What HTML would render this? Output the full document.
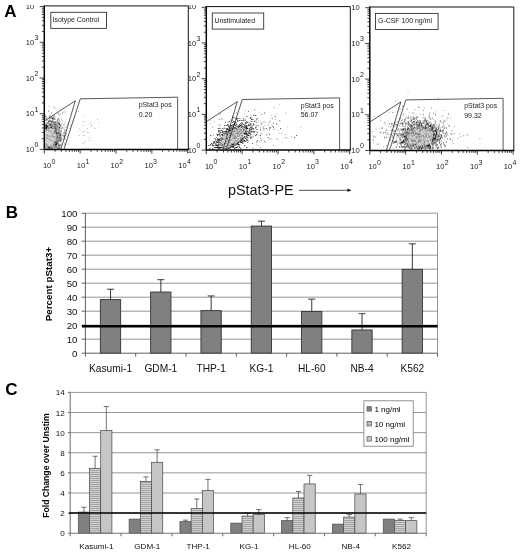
<!DOCTYPE html>
<html><head><meta charset="utf-8"><title>Figure</title>
<style>
html,body{margin:0;padding:0;background:#fff;}
body{width:520px;height:554px;overflow:hidden;font-family:"Liberation Sans",sans-serif;}
svg{display:block;will-change:transform;filter:blur(0.3px);}
</style></head><body>
<svg width="520" height="554" viewBox="0 0 520 554">
<rect width="520" height="554" fill="#fff"/>
<defs><filter id="bl" x="-5%" y="-5%" width="110%" height="110%"><feGaussianBlur stdDeviation="0.38"/></filter><clipPath id="tc"><rect x="0" y="5.0" width="520" height="549"/></clipPath></defs>
<g transform="translate(0,0)">
<rect x="44.3" y="5.9" width="144" height="143.5" fill="#fff" stroke="none"/>
<g filter="url(#bl)">
<path d="M45.3,115.4h1v1h-1zM45.3,117.4h1v1h-1zM45.3,124.4h1v1h-1zM45.3,125.4h1v1h-1zM45.3,126.4h1v1h-1zM45.3,127.4h1v1h-1zM45.3,128.4h1v1h-1zM46.3,119.4h1v1h-1zM46.3,124.4h1v1h-1zM46.3,125.4h1v1h-1zM46.3,126.4h1v1h-1zM46.3,127.4h1v1h-1zM46.3,128.4h1v1h-1zM47.3,122.4h1v1h-1zM47.3,125.4h1v1h-1zM47.3,126.4h1v1h-1zM47.3,147.4h1v1h-1zM48.3,120.4h1v1h-1zM48.3,121.4h1v1h-1zM48.3,127.4h1v1h-1zM48.3,128.4h1v1h-1zM48.3,146.4h1v1h-1zM48.3,147.4h1v1h-1zM49.3,115.4h1v1h-1zM49.3,117.4h1v1h-1zM49.3,120.4h1v1h-1zM49.3,124.4h1v1h-1zM49.3,146.4h1v1h-1zM49.3,147.4h1v1h-1zM50.3,120.4h1v1h-1zM50.3,123.4h1v1h-1zM50.3,124.4h1v1h-1zM50.3,125.4h1v1h-1zM50.3,126.4h1v1h-1zM50.3,127.4h1v1h-1zM50.3,145.4h1v1h-1zM50.3,147.4h1v1h-1zM51.3,117.4h1v1h-1zM51.3,122.4h1v1h-1zM51.3,124.4h1v1h-1zM51.3,126.4h1v1h-1zM51.3,127.4h1v1h-1zM51.3,147.4h1v1h-1zM52.3,117.4h1v1h-1zM52.3,118.4h1v1h-1zM52.3,120.4h1v1h-1zM52.3,121.4h1v1h-1zM52.3,125.4h1v1h-1zM52.3,126.4h1v1h-1zM52.3,128.4h1v1h-1zM52.3,147.4h1v1h-1zM53.3,116.4h1v1h-1zM53.3,118.4h1v1h-1zM53.3,121.4h1v1h-1zM53.3,123.4h1v1h-1zM53.3,127.4h1v1h-1zM53.3,131.4h1v1h-1zM53.3,141.4h1v1h-1zM53.3,143.4h1v1h-1zM53.3,144.4h1v1h-1zM54.3,118.4h1v1h-1zM54.3,123.4h1v1h-1zM54.3,124.4h1v1h-1zM54.3,126.4h1v1h-1zM54.3,127.4h1v1h-1zM54.3,129.4h1v1h-1zM54.3,131.4h1v1h-1zM54.3,141.4h1v1h-1zM54.3,144.4h1v1h-1zM54.3,146.4h1v1h-1zM55.3,121.4h1v1h-1zM55.3,122.4h1v1h-1zM55.3,124.4h1v1h-1zM55.3,126.4h1v1h-1zM55.3,127.4h1v1h-1zM55.3,128.4h1v1h-1zM55.3,130.4h1v1h-1zM55.3,131.4h1v1h-1zM55.3,141.4h1v1h-1zM55.3,142.4h1v1h-1zM55.3,143.4h1v1h-1zM55.3,144.4h1v1h-1zM55.3,145.4h1v1h-1zM56.3,124.4h1v1h-1zM56.3,128.4h1v1h-1zM56.3,129.4h1v1h-1zM56.3,131.4h1v1h-1zM56.3,132.4h1v1h-1zM56.3,133.4h1v1h-1zM56.3,134.4h1v1h-1zM56.3,136.4h1v1h-1zM56.3,138.4h1v1h-1zM56.3,140.4h1v1h-1zM56.3,142.4h1v1h-1zM56.3,143.4h1v1h-1zM56.3,144.4h1v1h-1zM56.3,146.4h1v1h-1zM57.3,122.4h1v1h-1zM57.3,125.4h1v1h-1zM57.3,132.4h1v1h-1zM57.3,140.4h1v1h-1zM57.3,147.4h1v1h-1zM58.3,122.4h1v1h-1zM58.3,123.4h1v1h-1zM58.3,127.4h1v1h-1zM58.3,129.4h1v1h-1zM58.3,131.4h1v1h-1zM58.3,133.4h1v1h-1zM58.3,134.4h1v1h-1zM58.3,137.4h1v1h-1zM58.3,140.4h1v1h-1zM58.3,144.4h1v1h-1zM58.3,145.4h1v1h-1zM58.3,147.4h1v1h-1zM59.3,123.4h1v1h-1zM59.3,124.4h1v1h-1zM59.3,126.4h1v1h-1zM59.3,127.4h1v1h-1zM59.3,130.4h1v1h-1zM59.3,132.4h1v1h-1zM59.3,134.4h1v1h-1zM59.3,136.4h1v1h-1zM59.3,137.4h1v1h-1zM59.3,139.4h1v1h-1zM59.3,145.4h1v1h-1zM59.3,147.4h1v1h-1zM60.3,125.4h1v1h-1zM60.3,134.4h1v1h-1zM60.3,135.4h1v1h-1zM60.3,137.4h1v1h-1zM60.3,139.4h1v1h-1zM60.3,140.4h1v1h-1zM61.3,138.4h1v1h-1zM62.3,127.4h1v1h-1zM63.3,135.4h1v1h-1zM64.3,135.4h1v1h-1zM64.3,138.4h1v1h-1z" fill="#1a1a1a"/>
<path d="M45.3,123.4h1v1h-1zM45.3,147.4h1v1h-1zM46.3,122.4h1v1h-1zM46.3,143.4h1v1h-1zM47.3,145.4h1v1h-1zM47.3,146.4h1v1h-1zM48.3,123.4h1v1h-1zM49.3,123.4h1v1h-1zM49.3,125.4h1v1h-1zM49.3,127.4h1v1h-1zM50.3,117.4h1v1h-1zM50.3,121.4h1v1h-1zM51.3,120.4h1v1h-1zM51.3,121.4h1v1h-1zM51.3,145.4h1v1h-1zM51.3,146.4h1v1h-1zM52.3,127.4h1v1h-1zM53.3,122.4h1v1h-1zM53.3,146.4h1v1h-1zM54.3,121.4h1v1h-1zM54.3,125.4h1v1h-1zM54.3,130.4h1v1h-1zM54.3,142.4h1v1h-1zM54.3,147.4h1v1h-1zM55.3,125.4h1v1h-1zM55.3,129.4h1v1h-1zM55.3,132.4h1v1h-1zM55.3,133.4h1v1h-1zM56.3,126.4h1v1h-1zM56.3,135.4h1v1h-1zM56.3,137.4h1v1h-1zM56.3,139.4h1v1h-1zM56.3,141.4h1v1h-1zM56.3,147.4h1v1h-1zM57.3,119.4h1v1h-1zM57.3,123.4h1v1h-1zM57.3,126.4h1v1h-1zM57.3,129.4h1v1h-1zM57.3,133.4h1v1h-1zM57.3,135.4h1v1h-1zM57.3,136.4h1v1h-1zM57.3,137.4h1v1h-1zM57.3,141.4h1v1h-1zM57.3,142.4h1v1h-1zM57.3,143.4h1v1h-1zM58.3,118.4h1v1h-1zM58.3,121.4h1v1h-1zM58.3,128.4h1v1h-1zM58.3,132.4h1v1h-1zM58.3,138.4h1v1h-1zM58.3,139.4h1v1h-1zM59.3,135.4h1v1h-1zM59.3,140.4h1v1h-1zM59.3,144.4h1v1h-1zM60.3,132.4h1v1h-1zM60.3,133.4h1v1h-1zM60.3,136.4h1v1h-1zM60.3,144.4h1v1h-1zM62.3,134.4h1v1h-1zM63.3,132.4h1v1h-1zM64.3,143.4h1v1h-1z" fill="#555"/>
<path d="M45.3,129.4h1v1h-1zM45.3,131.4h1v1h-1zM45.3,133.4h1v1h-1zM45.3,137.4h1v1h-1zM45.3,138.4h1v1h-1zM45.3,142.4h1v1h-1zM46.3,131.4h1v1h-1zM46.3,133.4h1v1h-1zM46.3,139.4h1v1h-1zM47.3,129.4h1v1h-1zM47.3,131.4h1v1h-1zM47.3,136.4h1v1h-1zM47.3,137.4h1v1h-1zM47.3,138.4h1v1h-1zM47.3,139.4h1v1h-1zM47.3,142.4h1v1h-1zM48.3,131.4h1v1h-1zM48.3,139.4h1v1h-1zM48.3,142.4h1v1h-1zM49.3,128.4h1v1h-1zM49.3,129.4h1v1h-1zM49.3,130.4h1v1h-1zM49.3,132.4h1v1h-1zM49.3,133.4h1v1h-1zM49.3,135.4h1v1h-1zM49.3,137.4h1v1h-1zM49.3,139.4h1v1h-1zM49.3,140.4h1v1h-1zM49.3,143.4h1v1h-1zM50.3,132.4h1v1h-1zM50.3,135.4h1v1h-1zM50.3,137.4h1v1h-1zM50.3,141.4h1v1h-1zM50.3,146.4h1v1h-1zM51.3,128.4h1v1h-1zM51.3,131.4h1v1h-1zM51.3,132.4h1v1h-1zM51.3,134.4h1v1h-1zM51.3,136.4h1v1h-1zM51.3,138.4h1v1h-1zM51.3,142.4h1v1h-1zM52.3,130.4h1v1h-1zM52.3,135.4h1v1h-1zM52.3,142.4h1v1h-1zM53.3,130.4h1v1h-1zM53.3,134.4h1v1h-1zM53.3,137.4h1v1h-1zM53.3,138.4h1v1h-1zM54.3,132.4h1v1h-1zM54.3,133.4h1v1h-1zM54.3,137.4h1v1h-1zM54.3,138.4h1v1h-1zM54.3,139.4h1v1h-1zM55.3,134.4h1v1h-1zM55.3,135.4h1v1h-1z" fill="#bcbcbc"/>
<path d="M45.3,130.4h1v1h-1zM45.3,141.4h1v1h-1zM45.3,143.4h1v1h-1zM45.3,144.4h1v1h-1zM46.3,130.4h1v1h-1zM46.3,134.4h1v1h-1zM46.3,135.4h1v1h-1zM46.3,136.4h1v1h-1zM46.3,141.4h1v1h-1zM46.3,145.4h1v1h-1zM47.3,133.4h1v1h-1zM47.3,134.4h1v1h-1zM47.3,135.4h1v1h-1zM47.3,140.4h1v1h-1zM47.3,143.4h1v1h-1zM48.3,135.4h1v1h-1zM48.3,136.4h1v1h-1zM48.3,144.4h1v1h-1zM48.3,145.4h1v1h-1zM49.3,134.4h1v1h-1zM49.3,136.4h1v1h-1zM50.3,129.4h1v1h-1zM50.3,130.4h1v1h-1zM50.3,131.4h1v1h-1zM50.3,136.4h1v1h-1zM50.3,140.4h1v1h-1zM50.3,143.4h1v1h-1zM50.3,144.4h1v1h-1zM51.3,130.4h1v1h-1zM51.3,144.4h1v1h-1zM52.3,132.4h1v1h-1zM52.3,133.4h1v1h-1zM52.3,134.4h1v1h-1zM52.3,136.4h1v1h-1zM52.3,137.4h1v1h-1zM52.3,140.4h1v1h-1zM52.3,143.4h1v1h-1zM53.3,132.4h1v1h-1zM53.3,133.4h1v1h-1zM53.3,136.4h1v1h-1zM53.3,140.4h1v1h-1zM53.3,142.4h1v1h-1zM54.3,140.4h1v1h-1z" fill="#a0a0a0"/>
<path d="M45.3,132.4h1v1h-1zM45.3,135.4h1v1h-1zM45.3,136.4h1v1h-1zM46.3,138.4h1v1h-1zM46.3,140.4h1v1h-1zM46.3,142.4h1v1h-1zM47.3,128.4h1v1h-1zM47.3,130.4h1v1h-1zM47.3,132.4h1v1h-1zM47.3,141.4h1v1h-1zM47.3,144.4h1v1h-1zM48.3,129.4h1v1h-1zM48.3,133.4h1v1h-1zM48.3,134.4h1v1h-1zM48.3,137.4h1v1h-1zM48.3,140.4h1v1h-1zM48.3,141.4h1v1h-1zM48.3,143.4h1v1h-1zM49.3,131.4h1v1h-1zM49.3,138.4h1v1h-1zM49.3,141.4h1v1h-1zM49.3,142.4h1v1h-1zM49.3,144.4h1v1h-1zM49.3,145.4h1v1h-1zM50.3,128.4h1v1h-1zM50.3,133.4h1v1h-1zM50.3,134.4h1v1h-1zM50.3,138.4h1v1h-1zM50.3,142.4h1v1h-1zM51.3,129.4h1v1h-1zM51.3,133.4h1v1h-1zM51.3,137.4h1v1h-1zM51.3,139.4h1v1h-1zM51.3,141.4h1v1h-1zM51.3,143.4h1v1h-1zM52.3,129.4h1v1h-1zM52.3,131.4h1v1h-1zM52.3,138.4h1v1h-1zM52.3,139.4h1v1h-1zM52.3,141.4h1v1h-1zM52.3,144.4h1v1h-1zM53.3,129.4h1v1h-1zM53.3,139.4h1v1h-1zM54.3,134.4h1v1h-1zM54.3,135.4h1v1h-1z" fill="#d2d2d2"/>
<path d="M45.3,134.4h1v1h-1zM45.3,139.4h1v1h-1zM48.3,138.4h1v1h-1zM51.3,135.4h1v1h-1zM51.3,140.4h1v1h-1z" fill="#777"/>
<path d="M45.3,145.4h1v1h-1zM45.3,146.4h1v1h-1zM46.3,147.4h1v1h-1zM47.3,127.4h1v1h-1zM49.3,126.4h1v1h-1zM52.3,145.4h1v1h-1zM52.3,146.4h1v1h-1zM53.3,128.4h1v1h-1zM53.3,145.4h1v1h-1zM54.3,128.4h1v1h-1zM54.3,143.4h1v1h-1zM55.3,136.4h1v1h-1zM55.3,138.4h1v1h-1zM55.3,139.4h1v1h-1zM55.3,140.4h1v1h-1z" fill="#909090"/>
<path d="M46.3,123.4h1v1h-1zM48.3,124.4h1v1h-1zM48.3,125.4h1v1h-1zM51.3,123.4h1v1h-1zM51.3,125.4h1v1h-1zM52.3,124.4h1v1h-1zM53.3,125.4h1v1h-1zM53.3,126.4h1v1h-1zM55.3,146.4h1v1h-1zM55.3,147.4h1v1h-1zM56.3,120.4h1v1h-1zM56.3,122.4h1v1h-1zM56.3,130.4h1v1h-1zM57.3,118.4h1v1h-1zM57.3,127.4h1v1h-1zM57.3,128.4h1v1h-1zM57.3,138.4h1v1h-1zM57.3,139.4h1v1h-1zM58.3,136.4h1v1h-1zM58.3,142.4h1v1h-1zM58.3,143.4h1v1h-1zM59.3,128.4h1v1h-1zM69.6,127.9h0.9v0.9h-0.9zM65.7,126.5h0.9v0.9h-0.9zM53.5,118.1h0.9v0.9h-0.9zM57.8,118.5h0.9v0.9h-0.9zM64.6,111.5h0.9v0.9h-0.9zM60.7,124.4h0.9v0.9h-0.9zM70.5,124.8h0.9v0.9h-0.9zM52.5,125.9h0.9v0.9h-0.9zM58.0,125.9h0.9v0.9h-0.9zM52.0,135.2h0.9v0.9h-0.9zM61.1,119.4h0.9v0.9h-0.9zM63.6,124.0h0.9v0.9h-0.9zM64.0,132.1h0.9v0.9h-0.9zM56.8,137.9h0.9v0.9h-0.9zM54.1,115.2h0.9v0.9h-0.9zM56.1,128.5h0.9v0.9h-0.9zM53.0,118.5h0.9v0.9h-0.9zM51.3,131.0h0.9v0.9h-0.9zM48.3,122.3h0.9v0.9h-0.9zM54.5,126.7h0.9v0.9h-0.9zM59.1,134.9h0.9v0.9h-0.9zM61.3,130.8h0.9v0.9h-0.9zM52.5,136.0h0.9v0.9h-0.9zM56.3,136.8h0.9v0.9h-0.9zM58.9,126.5h0.9v0.9h-0.9zM59.5,131.4h0.9v0.9h-0.9zM55.7,134.1h0.9v0.9h-0.9zM64.3,135.6h0.9v0.9h-0.9zM61.2,128.4h0.9v0.9h-0.9zM82.7,121.2h0.9v0.9h-0.9zM87.0,128.4h0.9v0.9h-0.9zM78.6,135.2h0.9v0.9h-0.9zM94.4,127.8h0.9v0.9h-0.9zM87.5,132.0h0.9v0.9h-0.9zM91.2,124.6h0.9v0.9h-0.9z" fill="#888"/>
<path d="M46.3,129.4h1v1h-1zM46.3,137.4h1v1h-1zM46.3,144.4h1v1h-1zM48.3,130.4h1v1h-1zM50.3,139.4h1v1h-1zM54.3,136.4h1v1h-1z" fill="#444"/>
<path d="M58.0,143.9h0.9v0.9h-0.9zM58.2,112.8h0.9v0.9h-0.9zM61.0,129.5h0.9v0.9h-0.9zM55.8,128.5h0.9v0.9h-0.9zM60.9,143.5h0.9v0.9h-0.9zM72.6,121.7h0.9v0.9h-0.9zM59.4,136.9h0.9v0.9h-0.9zM64.4,129.6h0.9v0.9h-0.9zM62.0,112.8h0.9v0.9h-0.9zM59.4,128.2h0.9v0.9h-0.9zM53.0,120.9h0.9v0.9h-0.9zM58.9,135.8h0.9v0.9h-0.9zM59.8,109.7h0.9v0.9h-0.9zM58.1,135.4h0.9v0.9h-0.9zM58.9,129.9h0.9v0.9h-0.9zM55.1,131.7h0.9v0.9h-0.9zM53.1,118.8h0.9v0.9h-0.9zM62.6,111.8h0.9v0.9h-0.9zM61.6,107.5h0.9v0.9h-0.9zM60.1,136.4h0.9v0.9h-0.9zM60.4,130.6h0.9v0.9h-0.9zM48.0,111.1h0.9v0.9h-0.9zM49.9,125.6h0.9v0.9h-0.9zM64.9,121.8h0.9v0.9h-0.9zM54.7,123.1h0.9v0.9h-0.9zM66.0,140.6h0.9v0.9h-0.9zM59.5,114.1h0.9v0.9h-0.9zM64.6,130.3h0.9v0.9h-0.9zM60.2,125.8h0.9v0.9h-0.9zM49.4,116.0h0.9v0.9h-0.9zM60.0,130.8h0.9v0.9h-0.9zM51.6,113.1h0.9v0.9h-0.9zM58.0,113.9h0.9v0.9h-0.9zM68.2,122.8h0.9v0.9h-0.9zM52.7,136.1h0.9v0.9h-0.9zM49.5,119.7h0.9v0.9h-0.9zM63.5,124.3h0.9v0.9h-0.9zM64.2,130.5h0.9v0.9h-0.9zM52.7,115.7h0.9v0.9h-0.9zM47.9,122.1h0.9v0.9h-0.9zM83.6,135.0h0.9v0.9h-0.9zM83.1,131.7h0.9v0.9h-0.9zM82.5,125.2h0.9v0.9h-0.9zM97.3,118.8h0.9v0.9h-0.9z" fill="#999"/>
<path d="M60.5,141.3h0.9v0.9h-0.9zM60.5,117.1h0.9v0.9h-0.9zM57.1,121.0h0.9v0.9h-0.9zM48.7,105.8h0.9v0.9h-0.9zM47.3,117.2h0.9v0.9h-0.9zM51.7,123.9h0.9v0.9h-0.9zM50.3,125.8h0.9v0.9h-0.9zM59.4,128.8h0.9v0.9h-0.9zM51.4,121.0h0.9v0.9h-0.9zM63.9,130.3h0.9v0.9h-0.9zM54.5,107.5h0.9v0.9h-0.9zM64.6,126.9h0.9v0.9h-0.9zM58.2,134.3h0.9v0.9h-0.9zM68.0,143.5h0.9v0.9h-0.9zM48.8,119.2h0.9v0.9h-0.9zM58.9,114.5h0.9v0.9h-0.9zM58.4,119.8h0.9v0.9h-0.9zM66.9,124.4h0.9v0.9h-0.9zM59.1,120.2h0.9v0.9h-0.9zM55.0,116.2h0.9v0.9h-0.9zM61.7,120.6h0.9v0.9h-0.9zM64.9,129.9h0.9v0.9h-0.9zM63.9,129.3h0.9v0.9h-0.9zM65.9,133.1h0.9v0.9h-0.9zM52.7,135.7h0.9v0.9h-0.9zM55.3,127.2h0.9v0.9h-0.9zM55.4,124.6h0.9v0.9h-0.9zM50.9,133.6h0.9v0.9h-0.9zM62.0,120.8h0.9v0.9h-0.9zM59.8,147.3h0.9v0.9h-0.9zM64.0,133.3h0.9v0.9h-0.9zM63.5,137.4h0.9v0.9h-0.9zM88.6,136.9h0.9v0.9h-0.9zM87.8,124.2h0.9v0.9h-0.9zM84.8,130.6h0.9v0.9h-0.9zM83.1,143.0h0.9v0.9h-0.9zM85.4,120.7h0.9v0.9h-0.9zM79.5,129.7h0.9v0.9h-0.9zM78.1,110.9h0.9v0.9h-0.9z" fill="#aaa"/>
<path d="M54.1,106.7h0.9v0.9h-0.9zM58.8,141.8h0.9v0.9h-0.9zM52.8,126.2h0.9v0.9h-0.9zM48.8,133.0h0.9v0.9h-0.9zM59.2,121.0h0.9v0.9h-0.9zM56.5,123.3h0.9v0.9h-0.9zM57.8,127.9h0.9v0.9h-0.9zM56.8,129.0h0.9v0.9h-0.9zM59.6,121.7h0.9v0.9h-0.9zM49.4,125.9h0.9v0.9h-0.9zM53.1,134.2h0.9v0.9h-0.9zM52.4,127.4h0.9v0.9h-0.9zM58.3,139.6h0.9v0.9h-0.9zM58.5,122.5h0.9v0.9h-0.9zM52.1,126.7h0.9v0.9h-0.9zM59.3,130.6h0.9v0.9h-0.9zM55.6,122.4h0.9v0.9h-0.9zM51.0,112.1h0.9v0.9h-0.9zM49.1,118.7h0.9v0.9h-0.9zM60.9,127.4h0.9v0.9h-0.9zM53.3,127.1h0.9v0.9h-0.9zM69.8,137.3h0.9v0.9h-0.9zM48.1,110.0h0.9v0.9h-0.9zM67.2,123.5h0.9v0.9h-0.9zM61.4,123.3h0.9v0.9h-0.9zM55.8,122.5h0.9v0.9h-0.9zM53.3,106.8h0.9v0.9h-0.9zM61.2,135.8h0.9v0.9h-0.9zM90.1,122.1h0.9v0.9h-0.9zM88.6,140.1h0.9v0.9h-0.9zM82.0,131.1h0.9v0.9h-0.9zM79.0,127.9h0.9v0.9h-0.9zM89.4,138.9h0.9v0.9h-0.9zM84.9,141.3h0.9v0.9h-0.9zM98.6,122.3h0.9v0.9h-0.9zM82.6,115.9h0.9v0.9h-0.9zM90.5,126.0h0.9v0.9h-0.9z" fill="#bbb"/>
</g>
<polyline points="44.3,121 75.3,100.8 60.9,149.4" fill="none" stroke="#222" stroke-width="0.75"/>
<polyline points="63.9,149.4 80.3,98.8 177.6,97.2 177.6,149.4" fill="none" stroke="#222" stroke-width="0.75"/>
<path d="M44.3,5.9H188.3V149.4" fill="none" stroke="#111" stroke-width="1.0"/>
<path d="M44.3,5.4V149.4H188.8" fill="none" stroke="#000" stroke-width="1.45"/>
<path d="M39.7,149.4H44.3M44.3,149.4V153.6M41.9,138.65H44.3M55.09,149.4V151.8M41.9,132.37H44.3M61.4,149.4V151.8M41.9,127.91H44.3M65.88,149.4V151.8M41.9,124.45H44.3M69.36,149.4V151.8M41.9,121.62H44.3M72.2,149.4V151.8M41.9,119.23H44.3M74.6,149.4V151.8M41.9,117.16H44.3M76.68,149.4V151.8M41.9,115.33H44.3M78.51,149.4V151.8M39.7,113.7H44.3M80.15,149.4V153.6M41.9,102.95H44.3M90.94,149.4V151.8M41.9,96.67H44.3M97.25,149.4V151.8M41.9,92.21H44.3M101.73,149.4V151.8M41.9,88.75H44.3M105.21,149.4V151.8M41.9,85.92H44.3M108.05,149.4V151.8M41.9,83.53H44.3M110.45,149.4V151.8M41.9,81.46H44.3M112.53,149.4V151.8M41.9,79.63H44.3M114.36,149.4V151.8M39.7,78H44.3M116,149.4V153.6M41.9,67.25H44.3M126.79,149.4V151.8M41.9,60.97H44.3M133.1,149.4V151.8M41.9,56.51H44.3M137.58,149.4V151.8M41.9,53.05H44.3M141.06,149.4V151.8M41.9,50.22H44.3M143.9,149.4V151.8M41.9,47.83H44.3M146.3,149.4V151.8M41.9,45.76H44.3M148.38,149.4V151.8M41.9,43.93H44.3M150.21,149.4V151.8M39.7,42.3H44.3M151.85,149.4V153.6M41.9,31.55H44.3M162.64,149.4V151.8M41.9,25.27H44.3M168.95,149.4V151.8M41.9,20.81H44.3M173.43,149.4V151.8M41.9,17.35H44.3M176.91,149.4V151.8M41.9,14.52H44.3M179.75,149.4V151.8M41.9,12.13H44.3M182.15,149.4V151.8M41.9,10.06H44.3M184.23,149.4V151.8M41.9,8.23H44.3M186.06,149.4V151.8M39.7,6.6H44.3M187.7,149.4V153.6" stroke="#111" stroke-width="0.8" fill="none"/>
<text x="25.8" y="152" font-size="7.6" font-family="Liberation Sans, sans-serif" fill="#222">10<tspan dy="-4.6" dx="0.2" font-size="7">0</tspan></text>
<text x="42.9" y="168.4" font-size="7.6" font-family="Liberation Sans, sans-serif" fill="#222">10<tspan dy="-4.8" dx="0.2" font-size="7">0</tspan></text>
<text x="25.8" y="116.3" font-size="7.6" font-family="Liberation Sans, sans-serif" fill="#222">10<tspan dy="-4.6" dx="0.2" font-size="7">1</tspan></text>
<text x="76.75" y="168.4" font-size="7.6" font-family="Liberation Sans, sans-serif" fill="#222">10<tspan dy="-4.8" dx="0.2" font-size="7">1</tspan></text>
<text x="25.8" y="80.6" font-size="7.6" font-family="Liberation Sans, sans-serif" fill="#222">10<tspan dy="-4.6" dx="0.2" font-size="7">2</tspan></text>
<text x="110.6" y="168.4" font-size="7.6" font-family="Liberation Sans, sans-serif" fill="#222">10<tspan dy="-4.8" dx="0.2" font-size="7">2</tspan></text>
<text x="25.8" y="44.9" font-size="7.6" font-family="Liberation Sans, sans-serif" fill="#222">10<tspan dy="-4.6" dx="0.2" font-size="7">3</tspan></text>
<text x="144.45" y="168.4" font-size="7.6" font-family="Liberation Sans, sans-serif" fill="#222">10<tspan dy="-4.8" dx="0.2" font-size="7">3</tspan></text>
<text x="178.3" y="168.4" font-size="7.6" font-family="Liberation Sans, sans-serif" fill="#222">10<tspan dy="-4.8" dx="0.2" font-size="7">4</tspan></text>
<rect x="50.8" y="12.3" width="55.7" height="16.1" fill="#fff" stroke="#333" stroke-width="0.9"/>
<text x="52.5" y="21.9" font-size="6.95" font-family="Liberation Sans, sans-serif" fill="#222">Isotype Control</text>
<text x="138.7" y="107" font-size="6.9" font-family="Liberation Sans, sans-serif" fill="#222">pStat3 pos</text>
<text x="138.7" y="116.6" font-size="7.0" font-family="Liberation Sans, sans-serif" fill="#222">0.20</text>
</g>
<g clip-path="url(#tc)"><text x="25.8" y="8.7" font-size="7.6" font-family="Liberation Sans, sans-serif" fill="#222">10</text></g>
<g transform="translate(0,0.7)">
<rect x="206.3" y="5.9" width="144" height="143.5" fill="#fff" stroke="none"/>
<g filter="url(#bl)">
<path d="M208.3,144.4h1v1h-1zM209.3,147.4h1v1h-1zM210.3,134.4h1v1h-1zM210.3,143.4h1v1h-1zM211.3,142.4h1v1h-1zM212.3,144.4h1v1h-1zM212.3,147.4h1v1h-1zM213.3,142.4h1v1h-1zM213.3,144.4h1v1h-1zM214.3,140.4h1v1h-1zM214.3,146.4h1v1h-1zM215.3,138.4h1v1h-1zM215.3,144.4h1v1h-1zM215.3,146.4h1v1h-1zM216.3,140.4h1v1h-1zM216.3,141.4h1v1h-1zM216.3,144.4h1v1h-1zM216.3,146.4h1v1h-1zM217.3,134.4h1v1h-1zM217.3,138.4h1v1h-1zM217.3,139.4h1v1h-1zM217.3,141.4h1v1h-1zM217.3,144.4h1v1h-1zM217.3,146.4h1v1h-1zM218.3,127.4h1v1h-1zM218.3,129.4h1v1h-1zM218.3,130.4h1v1h-1zM218.3,138.4h1v1h-1zM218.3,140.4h1v1h-1zM218.3,143.4h1v1h-1zM218.3,146.4h1v1h-1zM219.3,132.4h1v1h-1zM219.3,138.4h1v1h-1zM219.3,139.4h1v1h-1zM219.3,141.4h1v1h-1zM219.3,146.4h1v1h-1zM219.3,147.4h1v1h-1zM220.3,131.4h1v1h-1zM220.3,142.4h1v1h-1zM220.3,146.4h1v1h-1zM221.3,129.4h1v1h-1zM221.3,133.4h1v1h-1zM221.3,146.4h1v1h-1zM222.3,127.4h1v1h-1zM222.3,130.4h1v1h-1zM222.3,131.4h1v1h-1zM222.3,133.4h1v1h-1zM222.3,134.4h1v1h-1zM222.3,138.4h1v1h-1zM223.3,132.4h1v1h-1zM224.3,124.4h1v1h-1zM224.3,130.4h1v1h-1zM224.3,133.4h1v1h-1zM225.3,130.4h1v1h-1zM225.3,132.4h1v1h-1zM225.3,145.4h1v1h-1zM226.3,128.4h1v1h-1zM226.3,130.4h1v1h-1zM226.3,131.4h1v1h-1zM226.3,147.4h1v1h-1zM227.3,123.4h1v1h-1zM227.3,128.4h1v1h-1zM228.3,125.4h1v1h-1zM228.3,129.4h1v1h-1zM228.3,147.4h1v1h-1zM229.3,126.4h1v1h-1zM229.3,127.4h1v1h-1zM229.3,128.4h1v1h-1zM229.3,129.4h1v1h-1zM229.3,131.4h1v1h-1zM229.3,146.4h1v1h-1zM230.3,124.4h1v1h-1zM230.3,125.4h1v1h-1zM230.3,128.4h1v1h-1zM230.3,129.4h1v1h-1zM230.3,145.4h1v1h-1zM230.3,146.4h1v1h-1zM231.3,124.4h1v1h-1zM231.3,126.4h1v1h-1zM231.3,127.4h1v1h-1zM231.3,143.4h1v1h-1zM231.3,144.4h1v1h-1zM231.3,145.4h1v1h-1zM232.3,121.4h1v1h-1zM232.3,127.4h1v1h-1zM232.3,128.4h1v1h-1zM232.3,143.4h1v1h-1zM232.3,145.4h1v1h-1zM233.3,116.4h1v1h-1zM233.3,120.4h1v1h-1zM233.3,123.4h1v1h-1zM233.3,124.4h1v1h-1zM233.3,142.4h1v1h-1zM233.3,143.4h1v1h-1zM233.3,145.4h1v1h-1zM233.3,146.4h1v1h-1zM234.3,122.4h1v1h-1zM234.3,123.4h1v1h-1zM234.3,126.4h1v1h-1zM234.3,144.4h1v1h-1zM234.3,147.4h1v1h-1zM235.3,121.4h1v1h-1zM235.3,124.4h1v1h-1zM235.3,143.4h1v1h-1zM235.3,146.4h1v1h-1zM236.3,118.4h1v1h-1zM236.3,123.4h1v1h-1zM236.3,142.4h1v1h-1zM236.3,146.4h1v1h-1zM237.3,119.4h1v1h-1zM237.3,120.4h1v1h-1zM237.3,141.4h1v1h-1zM237.3,142.4h1v1h-1zM237.3,143.4h1v1h-1zM237.3,145.4h1v1h-1zM238.3,125.4h1v1h-1zM238.3,126.4h1v1h-1zM238.3,141.4h1v1h-1zM238.3,143.4h1v1h-1zM239.3,119.4h1v1h-1zM239.3,123.4h1v1h-1zM239.3,124.4h1v1h-1zM239.3,125.4h1v1h-1zM239.3,140.4h1v1h-1zM239.3,146.4h1v1h-1zM240.3,124.4h1v1h-1zM240.3,139.4h1v1h-1zM240.3,140.4h1v1h-1zM240.3,141.4h1v1h-1zM241.3,119.4h1v1h-1zM241.3,123.4h1v1h-1zM241.3,124.4h1v1h-1zM241.3,125.4h1v1h-1zM241.3,126.4h1v1h-1zM241.3,137.4h1v1h-1zM241.3,138.4h1v1h-1zM241.3,139.4h1v1h-1zM241.3,141.4h1v1h-1zM242.3,122.4h1v1h-1zM242.3,134.4h1v1h-1zM242.3,137.4h1v1h-1zM242.3,138.4h1v1h-1zM242.3,140.4h1v1h-1zM243.3,119.4h1v1h-1zM243.3,123.4h1v1h-1zM243.3,128.4h1v1h-1zM243.3,129.4h1v1h-1zM243.3,132.4h1v1h-1zM243.3,139.4h1v1h-1zM244.3,124.4h1v1h-1zM244.3,126.4h1v1h-1zM244.3,132.4h1v1h-1zM244.3,133.4h1v1h-1zM244.3,135.4h1v1h-1zM244.3,136.4h1v1h-1zM244.3,139.4h1v1h-1zM244.3,140.4h1v1h-1zM245.3,121.4h1v1h-1zM245.3,122.4h1v1h-1zM245.3,126.4h1v1h-1zM245.3,127.4h1v1h-1zM245.3,129.4h1v1h-1zM245.3,130.4h1v1h-1zM245.3,131.4h1v1h-1zM245.3,132.4h1v1h-1zM245.3,137.4h1v1h-1zM246.3,115.4h1v1h-1zM246.3,124.4h1v1h-1zM246.3,125.4h1v1h-1zM246.3,126.4h1v1h-1zM246.3,127.4h1v1h-1zM246.3,130.4h1v1h-1zM246.3,132.4h1v1h-1zM246.3,133.4h1v1h-1zM246.3,135.4h1v1h-1zM246.3,138.4h1v1h-1zM246.3,146.4h1v1h-1zM247.3,121.4h1v1h-1zM247.3,127.4h1v1h-1zM247.3,133.4h1v1h-1zM247.3,134.4h1v1h-1zM247.3,136.4h1v1h-1zM248.3,123.4h1v1h-1zM248.3,124.4h1v1h-1zM248.3,132.4h1v1h-1zM248.3,134.4h1v1h-1zM249.3,127.4h1v1h-1zM249.3,129.4h1v1h-1zM249.3,130.4h1v1h-1zM249.3,131.4h1v1h-1zM249.3,132.4h1v1h-1zM250.3,116.4h1v1h-1zM250.3,117.4h1v1h-1zM250.3,123.4h1v1h-1zM250.3,126.4h1v1h-1zM250.3,133.4h1v1h-1zM251.3,120.4h1v1h-1zM251.3,126.4h1v1h-1zM251.3,128.4h1v1h-1zM251.3,130.4h1v1h-1zM252.3,118.4h1v1h-1zM252.3,127.4h1v1h-1zM253.3,114.4h1v1h-1zM253.3,123.4h1v1h-1zM253.3,130.4h1v1h-1zM254.3,120.4h1v1h-1zM255.3,114.4h1v1h-1zM255.3,134.4h1v1h-1zM256.3,133.4h1v1h-1z" fill="#1a1a1a"/>
<path d="M210.3,144.4h1v1h-1zM215.3,139.4h1v1h-1zM216.3,143.4h1v1h-1zM217.3,140.4h1v1h-1zM217.3,147.4h1v1h-1zM218.3,145.4h1v1h-1zM218.3,147.4h1v1h-1zM219.3,137.4h1v1h-1zM220.3,127.4h1v1h-1zM220.3,129.4h1v1h-1zM220.3,134.4h1v1h-1zM220.3,136.4h1v1h-1zM220.3,141.4h1v1h-1zM223.3,130.4h1v1h-1zM228.3,126.4h1v1h-1zM230.3,127.4h1v1h-1zM232.3,123.4h1v1h-1zM232.3,125.4h1v1h-1zM234.3,124.4h1v1h-1zM243.3,140.4h1v1h-1zM244.3,123.4h1v1h-1zM244.3,131.4h1v1h-1zM246.3,122.4h1v1h-1zM246.3,136.4h1v1h-1zM247.3,125.4h1v1h-1zM247.3,130.4h1v1h-1zM248.3,130.4h1v1h-1zM249.3,125.4h1v1h-1zM249.3,134.4h1v1h-1zM250.3,131.4h1v1h-1zM255.3,127.4h1v1h-1zM246.3,122.1h0.9v0.9h-0.9zM239.2,133.8h0.9v0.9h-0.9zM219.0,133.8h0.9v0.9h-0.9zM232.4,116.9h0.9v0.9h-0.9zM234.6,120.3h0.9v0.9h-0.9zM244.5,117.8h0.9v0.9h-0.9zM226.1,137.4h0.9v0.9h-0.9zM245.1,136.8h0.9v0.9h-0.9zM220.4,136.1h0.9v0.9h-0.9zM249.5,131.7h0.9v0.9h-0.9zM223.3,141.6h0.9v0.9h-0.9zM229.6,146.4h0.9v0.9h-0.9zM226.2,136.5h0.9v0.9h-0.9zM210.0,134.7h0.9v0.9h-0.9zM232.5,139.0h0.9v0.9h-0.9zM250.5,119.9h0.9v0.9h-0.9zM239.5,127.1h0.9v0.9h-0.9zM211.9,125.9h0.9v0.9h-0.9zM241.3,134.9h0.9v0.9h-0.9zM233.4,131.3h0.9v0.9h-0.9zM252.9,128.4h0.9v0.9h-0.9zM241.7,119.3h0.9v0.9h-0.9zM252.7,114.0h0.9v0.9h-0.9zM250.2,133.5h0.9v0.9h-0.9zM239.1,124.3h0.9v0.9h-0.9zM244.7,109.2h0.9v0.9h-0.9zM245.8,130.3h0.9v0.9h-0.9zM229.2,143.6h0.9v0.9h-0.9zM245.0,119.5h0.9v0.9h-0.9zM257.6,144.4h0.9v0.9h-0.9zM230.3,134.3h0.9v0.9h-0.9zM250.8,126.1h0.9v0.9h-0.9zM218.2,143.0h0.9v0.9h-0.9zM273.1,144.2h0.9v0.9h-0.9zM227.7,121.1h0.9v0.9h-0.9zM244.4,112.5h0.9v0.9h-0.9zM268.4,124.5h0.9v0.9h-0.9zM218.4,131.1h0.9v0.9h-0.9zM232.0,144.3h0.9v0.9h-0.9zM228.5,131.3h0.9v0.9h-0.9zM249.4,135.7h0.9v0.9h-0.9zM256.6,141.1h0.9v0.9h-0.9zM239.9,137.4h0.9v0.9h-0.9zM264.7,120.8h0.9v0.9h-0.9zM263.8,112.7h0.9v0.9h-0.9zM264.5,121.0h0.9v0.9h-0.9zM274.7,117.8h0.9v0.9h-0.9zM269.4,127.2h0.9v0.9h-0.9zM260.1,125.8h0.9v0.9h-0.9zM225.1,121.4h0.9v0.9h-0.9zM274.3,127.7h0.9v0.9h-0.9zM239.3,126.2h0.9v0.9h-0.9zM270.7,114.7h0.9v0.9h-0.9zM277.5,123.2h0.9v0.9h-0.9zM279.2,119.6h0.9v0.9h-0.9zM263.0,125.9h0.9v0.9h-0.9zM256.2,117.8h0.9v0.9h-0.9z" fill="#888"/>
<path d="M212.3,143.4h1v1h-1zM213.3,140.4h1v1h-1zM213.3,141.4h1v1h-1zM214.3,137.4h1v1h-1zM214.3,141.4h1v1h-1zM215.3,142.4h1v1h-1zM215.3,143.4h1v1h-1zM216.3,133.4h1v1h-1zM216.3,136.4h1v1h-1zM217.3,133.4h1v1h-1zM217.3,137.4h1v1h-1zM217.3,145.4h1v1h-1zM218.3,133.4h1v1h-1zM218.3,139.4h1v1h-1zM218.3,141.4h1v1h-1zM218.3,142.4h1v1h-1zM218.3,144.4h1v1h-1zM220.3,137.4h1v1h-1zM220.3,139.4h1v1h-1zM220.3,143.4h1v1h-1zM221.3,137.4h1v1h-1zM221.3,144.4h1v1h-1zM222.3,144.4h1v1h-1zM224.3,127.4h1v1h-1zM225.3,147.4h1v1h-1zM226.3,124.4h1v1h-1zM226.3,127.4h1v1h-1zM226.3,129.4h1v1h-1zM226.3,132.4h1v1h-1zM227.3,127.4h1v1h-1zM227.3,130.4h1v1h-1zM227.3,147.4h1v1h-1zM228.3,146.4h1v1h-1zM229.3,147.4h1v1h-1zM231.3,128.4h1v1h-1zM232.3,146.4h1v1h-1zM233.3,126.4h1v1h-1zM233.3,127.4h1v1h-1zM234.3,121.4h1v1h-1zM234.3,127.4h1v1h-1zM235.3,122.4h1v1h-1zM235.3,126.4h1v1h-1zM236.3,117.4h1v1h-1zM236.3,125.4h1v1h-1zM236.3,127.4h1v1h-1zM236.3,143.4h1v1h-1zM237.3,117.4h1v1h-1zM237.3,125.4h1v1h-1zM238.3,124.4h1v1h-1zM239.3,117.4h1v1h-1zM239.3,128.4h1v1h-1zM240.3,122.4h1v1h-1zM241.3,121.4h1v1h-1zM242.3,125.4h1v1h-1zM242.3,135.4h1v1h-1zM242.3,141.4h1v1h-1zM242.3,142.4h1v1h-1zM243.3,137.4h1v1h-1zM244.3,125.4h1v1h-1zM244.3,144.4h1v1h-1zM245.3,124.4h1v1h-1zM245.3,125.4h1v1h-1zM245.3,133.4h1v1h-1zM245.3,140.4h1v1h-1zM246.3,120.4h1v1h-1zM246.3,128.4h1v1h-1zM246.3,131.4h1v1h-1zM246.3,134.4h1v1h-1zM246.3,139.4h1v1h-1zM247.3,141.4h1v1h-1zM248.3,131.4h1v1h-1zM250.3,122.4h1v1h-1zM250.3,128.4h1v1h-1zM250.3,136.4h1v1h-1zM250.3,137.4h1v1h-1zM251.3,127.4h1v1h-1zM251.3,136.4h1v1h-1zM252.3,124.4h1v1h-1zM252.3,130.4h1v1h-1zM253.3,131.4h1v1h-1zM254.3,130.4h1v1h-1zM255.3,126.4h1v1h-1zM256.3,128.4h1v1h-1zM257.3,117.4h1v1h-1z" fill="#555"/>
<path d="M217.3,143.4h1v1h-1zM219.3,143.4h1v1h-1zM224.3,147.4h1v1h-1zM225.3,142.4h1v1h-1zM226.3,140.4h1v1h-1zM227.3,136.4h1v1h-1zM227.3,139.4h1v1h-1zM228.3,133.4h1v1h-1zM229.3,134.4h1v1h-1zM229.3,144.4h1v1h-1zM230.3,139.4h1v1h-1zM233.3,130.4h1v1h-1zM234.3,130.4h1v1h-1zM234.3,140.4h1v1h-1zM235.3,128.4h1v1h-1zM235.3,135.4h1v1h-1zM236.3,136.4h1v1h-1zM237.3,126.4h1v1h-1zM237.3,129.4h1v1h-1zM237.3,132.4h1v1h-1zM237.3,134.4h1v1h-1zM238.3,131.4h1v1h-1zM238.3,133.4h1v1h-1z" fill="#777"/>
<path d="M219.3,140.4h1v1h-1zM219.3,144.4h1v1h-1zM220.3,147.4h1v1h-1zM221.3,136.4h1v1h-1zM221.3,138.4h1v1h-1zM221.3,139.4h1v1h-1zM221.3,142.4h1v1h-1zM222.3,135.4h1v1h-1zM222.3,137.4h1v1h-1zM222.3,146.4h1v1h-1zM223.3,134.4h1v1h-1zM223.3,146.4h1v1h-1zM223.3,147.4h1v1h-1zM224.3,131.4h1v1h-1zM224.3,132.4h1v1h-1zM224.3,146.4h1v1h-1zM225.3,131.4h1v1h-1zM228.3,130.4h1v1h-1zM229.3,145.4h1v1h-1zM230.3,144.4h1v1h-1zM232.3,144.4h1v1h-1zM233.3,144.4h1v1h-1zM234.3,142.4h1v1h-1zM234.3,143.4h1v1h-1zM235.3,125.4h1v1h-1zM235.3,144.4h1v1h-1zM240.3,126.4h1v1h-1zM240.3,138.4h1v1h-1zM241.3,128.4h1v1h-1zM241.3,134.4h1v1h-1zM242.3,126.4h1v1h-1zM242.3,127.4h1v1h-1zM242.3,136.4h1v1h-1zM243.3,125.4h1v1h-1zM243.3,126.4h1v1h-1zM243.3,127.4h1v1h-1zM243.3,131.4h1v1h-1zM244.3,130.4h1v1h-1zM246.3,129.4h1v1h-1z" fill="#909090"/>
<path d="M219.3,142.4h1v1h-1zM220.3,145.4h1v1h-1zM221.3,145.4h1v1h-1zM222.3,140.4h1v1h-1zM223.3,135.4h1v1h-1zM223.3,136.4h1v1h-1zM223.3,137.4h1v1h-1zM223.3,139.4h1v1h-1zM223.3,140.4h1v1h-1zM223.3,142.4h1v1h-1zM223.3,144.4h1v1h-1zM224.3,139.4h1v1h-1zM224.3,140.4h1v1h-1zM224.3,141.4h1v1h-1zM225.3,134.4h1v1h-1zM225.3,136.4h1v1h-1zM225.3,141.4h1v1h-1zM225.3,143.4h1v1h-1zM225.3,144.4h1v1h-1zM226.3,135.4h1v1h-1zM226.3,138.4h1v1h-1zM226.3,141.4h1v1h-1zM226.3,142.4h1v1h-1zM226.3,143.4h1v1h-1zM226.3,146.4h1v1h-1zM227.3,131.4h1v1h-1zM227.3,132.4h1v1h-1zM227.3,134.4h1v1h-1zM227.3,135.4h1v1h-1zM227.3,144.4h1v1h-1zM227.3,145.4h1v1h-1zM228.3,134.4h1v1h-1zM228.3,137.4h1v1h-1zM228.3,138.4h1v1h-1zM228.3,141.4h1v1h-1zM229.3,135.4h1v1h-1zM229.3,137.4h1v1h-1zM229.3,142.4h1v1h-1zM229.3,143.4h1v1h-1zM230.3,130.4h1v1h-1zM230.3,131.4h1v1h-1zM230.3,140.4h1v1h-1zM231.3,132.4h1v1h-1zM231.3,134.4h1v1h-1zM231.3,135.4h1v1h-1zM231.3,136.4h1v1h-1zM231.3,137.4h1v1h-1zM231.3,138.4h1v1h-1zM232.3,129.4h1v1h-1zM232.3,135.4h1v1h-1zM232.3,138.4h1v1h-1zM232.3,141.4h1v1h-1zM233.3,132.4h1v1h-1zM233.3,134.4h1v1h-1zM233.3,136.4h1v1h-1zM233.3,138.4h1v1h-1zM233.3,139.4h1v1h-1zM233.3,140.4h1v1h-1zM234.3,131.4h1v1h-1zM234.3,132.4h1v1h-1zM234.3,134.4h1v1h-1zM234.3,135.4h1v1h-1zM235.3,129.4h1v1h-1zM235.3,131.4h1v1h-1zM235.3,133.4h1v1h-1zM235.3,134.4h1v1h-1zM235.3,136.4h1v1h-1zM235.3,138.4h1v1h-1zM235.3,141.4h1v1h-1zM236.3,135.4h1v1h-1zM236.3,138.4h1v1h-1zM237.3,136.4h1v1h-1zM238.3,139.4h1v1h-1zM239.3,126.4h1v1h-1zM239.3,127.4h1v1h-1zM239.3,129.4h1v1h-1zM239.3,136.4h1v1h-1zM239.3,137.4h1v1h-1zM240.3,129.4h1v1h-1zM240.3,130.4h1v1h-1zM240.3,131.4h1v1h-1zM240.3,132.4h1v1h-1zM240.3,133.4h1v1h-1zM241.3,132.4h1v1h-1zM241.3,135.4h1v1h-1zM242.3,132.4h1v1h-1zM242.3,133.4h1v1h-1zM244.3,129.4h1v1h-1z" fill="#d2d2d2"/>
<path d="M220.3,138.4h1v1h-1zM220.3,140.4h1v1h-1zM221.3,141.4h1v1h-1zM222.3,136.4h1v1h-1zM222.3,141.4h1v1h-1zM222.3,142.4h1v1h-1zM223.3,138.4h1v1h-1zM223.3,141.4h1v1h-1zM223.3,143.4h1v1h-1zM223.3,145.4h1v1h-1zM224.3,134.4h1v1h-1zM224.3,135.4h1v1h-1zM224.3,137.4h1v1h-1zM224.3,143.4h1v1h-1zM225.3,135.4h1v1h-1zM225.3,137.4h1v1h-1zM225.3,138.4h1v1h-1zM225.3,139.4h1v1h-1zM225.3,140.4h1v1h-1zM226.3,134.4h1v1h-1zM226.3,136.4h1v1h-1zM226.3,139.4h1v1h-1zM226.3,144.4h1v1h-1zM227.3,133.4h1v1h-1zM227.3,138.4h1v1h-1zM227.3,140.4h1v1h-1zM227.3,141.4h1v1h-1zM227.3,142.4h1v1h-1zM227.3,146.4h1v1h-1zM228.3,132.4h1v1h-1zM228.3,135.4h1v1h-1zM228.3,140.4h1v1h-1zM228.3,142.4h1v1h-1zM228.3,144.4h1v1h-1zM228.3,145.4h1v1h-1zM229.3,130.4h1v1h-1zM229.3,133.4h1v1h-1zM229.3,140.4h1v1h-1zM230.3,134.4h1v1h-1zM230.3,135.4h1v1h-1zM230.3,136.4h1v1h-1zM230.3,137.4h1v1h-1zM230.3,138.4h1v1h-1zM230.3,141.4h1v1h-1zM230.3,142.4h1v1h-1zM230.3,143.4h1v1h-1zM231.3,130.4h1v1h-1zM231.3,140.4h1v1h-1zM232.3,130.4h1v1h-1zM232.3,132.4h1v1h-1zM232.3,134.4h1v1h-1zM232.3,136.4h1v1h-1zM232.3,139.4h1v1h-1zM232.3,140.4h1v1h-1zM233.3,128.4h1v1h-1zM233.3,131.4h1v1h-1zM233.3,133.4h1v1h-1zM233.3,141.4h1v1h-1zM234.3,128.4h1v1h-1zM234.3,137.4h1v1h-1zM234.3,138.4h1v1h-1zM235.3,130.4h1v1h-1zM235.3,140.4h1v1h-1zM235.3,142.4h1v1h-1zM236.3,133.4h1v1h-1zM236.3,137.4h1v1h-1zM236.3,141.4h1v1h-1zM237.3,130.4h1v1h-1zM237.3,133.4h1v1h-1zM237.3,135.4h1v1h-1zM237.3,137.4h1v1h-1zM237.3,139.4h1v1h-1zM238.3,127.4h1v1h-1zM238.3,128.4h1v1h-1zM238.3,129.4h1v1h-1zM238.3,130.4h1v1h-1zM238.3,134.4h1v1h-1zM238.3,136.4h1v1h-1zM238.3,137.4h1v1h-1zM239.3,131.4h1v1h-1zM239.3,133.4h1v1h-1zM239.3,134.4h1v1h-1zM239.3,138.4h1v1h-1zM240.3,127.4h1v1h-1zM240.3,134.4h1v1h-1zM240.3,135.4h1v1h-1zM241.3,130.4h1v1h-1zM241.3,131.4h1v1h-1zM241.3,133.4h1v1h-1zM241.3,136.4h1v1h-1zM242.3,128.4h1v1h-1zM242.3,129.4h1v1h-1zM242.3,130.4h1v1h-1zM242.3,131.4h1v1h-1zM244.3,128.4h1v1h-1z" fill="#bcbcbc"/>
<path d="M220.3,144.4h1v1h-1zM221.3,140.4h1v1h-1zM221.3,143.4h1v1h-1zM222.3,145.4h1v1h-1zM222.3,147.4h1v1h-1zM224.3,136.4h1v1h-1zM224.3,138.4h1v1h-1zM226.3,137.4h1v1h-1zM226.3,145.4h1v1h-1zM227.3,137.4h1v1h-1zM227.3,143.4h1v1h-1zM228.3,131.4h1v1h-1zM228.3,136.4h1v1h-1zM228.3,139.4h1v1h-1zM228.3,143.4h1v1h-1zM229.3,138.4h1v1h-1zM229.3,139.4h1v1h-1zM229.3,141.4h1v1h-1zM230.3,133.4h1v1h-1zM231.3,129.4h1v1h-1zM231.3,131.4h1v1h-1zM231.3,133.4h1v1h-1zM231.3,139.4h1v1h-1zM231.3,142.4h1v1h-1zM232.3,131.4h1v1h-1zM232.3,133.4h1v1h-1zM232.3,137.4h1v1h-1zM232.3,142.4h1v1h-1zM233.3,129.4h1v1h-1zM233.3,135.4h1v1h-1zM233.3,137.4h1v1h-1zM234.3,129.4h1v1h-1zM234.3,133.4h1v1h-1zM234.3,139.4h1v1h-1zM235.3,132.4h1v1h-1zM235.3,139.4h1v1h-1zM236.3,128.4h1v1h-1zM236.3,129.4h1v1h-1zM236.3,130.4h1v1h-1zM236.3,131.4h1v1h-1zM236.3,139.4h1v1h-1zM236.3,140.4h1v1h-1zM237.3,127.4h1v1h-1zM237.3,128.4h1v1h-1zM237.3,131.4h1v1h-1zM237.3,138.4h1v1h-1zM237.3,140.4h1v1h-1zM238.3,132.4h1v1h-1zM238.3,138.4h1v1h-1zM238.3,140.4h1v1h-1zM239.3,132.4h1v1h-1zM239.3,135.4h1v1h-1zM239.3,139.4h1v1h-1zM240.3,136.4h1v1h-1zM240.3,137.4h1v1h-1zM241.3,129.4h1v1h-1zM243.3,130.4h1v1h-1z" fill="#a0a0a0"/>
<path d="M222.3,143.4h1v1h-1zM224.3,142.4h1v1h-1zM226.3,133.4h1v1h-1zM229.3,132.4h1v1h-1zM229.3,136.4h1v1h-1zM230.3,132.4h1v1h-1zM234.3,136.4h1v1h-1zM234.3,141.4h1v1h-1zM235.3,127.4h1v1h-1zM235.3,137.4h1v1h-1zM236.3,132.4h1v1h-1zM239.3,130.4h1v1h-1zM240.6,140.2h0.9v0.9h-0.9zM229.2,120.3h0.9v0.9h-0.9zM232.2,119.0h0.9v0.9h-0.9zM241.0,132.1h0.9v0.9h-0.9zM232.6,124.3h0.9v0.9h-0.9zM226.7,133.8h0.9v0.9h-0.9zM229.4,141.1h0.9v0.9h-0.9zM227.1,137.6h0.9v0.9h-0.9zM230.3,127.1h0.9v0.9h-0.9zM221.6,117.9h0.9v0.9h-0.9zM222.1,137.7h0.9v0.9h-0.9zM263.4,127.6h0.9v0.9h-0.9zM235.6,127.7h0.9v0.9h-0.9zM264.9,141.0h0.9v0.9h-0.9zM229.7,130.2h0.9v0.9h-0.9zM228.9,134.8h0.9v0.9h-0.9zM257.1,139.3h0.9v0.9h-0.9zM243.9,128.0h0.9v0.9h-0.9zM230.1,134.5h0.9v0.9h-0.9zM225.8,127.7h0.9v0.9h-0.9zM219.6,112.9h0.9v0.9h-0.9zM222.3,134.4h0.9v0.9h-0.9zM235.0,135.0h0.9v0.9h-0.9zM256.4,121.1h0.9v0.9h-0.9zM220.9,138.9h0.9v0.9h-0.9zM265.9,127.4h0.9v0.9h-0.9zM222.0,131.1h0.9v0.9h-0.9zM231.9,128.4h0.9v0.9h-0.9zM267.5,136.2h0.9v0.9h-0.9zM230.8,145.6h0.9v0.9h-0.9zM255.5,125.9h0.9v0.9h-0.9zM219.6,133.8h0.9v0.9h-0.9zM250.9,118.3h0.9v0.9h-0.9zM263.5,129.0h0.9v0.9h-0.9zM247.3,139.1h0.9v0.9h-0.9zM257.8,124.5h0.9v0.9h-0.9zM232.1,115.6h0.9v0.9h-0.9zM253.2,127.3h0.9v0.9h-0.9zM237.6,135.2h0.9v0.9h-0.9zM231.5,118.7h0.9v0.9h-0.9zM222.1,134.4h0.9v0.9h-0.9zM259.7,146.5h0.9v0.9h-0.9zM239.3,143.6h0.9v0.9h-0.9zM225.4,131.1h0.9v0.9h-0.9zM260.1,128.8h0.9v0.9h-0.9zM240.4,147.3h0.9v0.9h-0.9zM264.1,140.0h0.9v0.9h-0.9zM240.6,129.5h0.9v0.9h-0.9zM222.0,131.1h0.9v0.9h-0.9zM227.4,123.6h0.9v0.9h-0.9zM233.0,125.7h0.9v0.9h-0.9zM250.4,129.3h0.9v0.9h-0.9zM249.3,128.2h0.9v0.9h-0.9zM255.7,124.1h0.9v0.9h-0.9zM273.0,122.1h0.9v0.9h-0.9zM259.9,134.3h0.9v0.9h-0.9zM274.8,115.4h0.9v0.9h-0.9zM296.1,134.4h0.9v0.9h-0.9zM269.4,126.6h0.9v0.9h-0.9zM270.2,126.6h0.9v0.9h-0.9zM249.0,128.0h0.9v0.9h-0.9zM293.9,136.4h0.9v0.9h-0.9zM254.4,108.7h0.9v0.9h-0.9zM280.1,127.3h0.9v0.9h-0.9zM269.1,133.2h0.9v0.9h-0.9zM257.0,131.3h0.9v0.9h-0.9zM273.0,126.1h0.9v0.9h-0.9zM261.4,113.2h0.9v0.9h-0.9zM247.9,110.3h0.9v0.9h-0.9z" fill="#444"/>
<path d="M255.0,127.5h0.9v0.9h-0.9zM253.3,113.7h0.9v0.9h-0.9zM250.6,135.2h0.9v0.9h-0.9zM240.4,130.8h0.9v0.9h-0.9zM218.5,118.2h0.9v0.9h-0.9zM250.6,114.3h0.9v0.9h-0.9zM236.3,129.4h0.9v0.9h-0.9zM225.5,129.9h0.9v0.9h-0.9zM230.7,135.1h0.9v0.9h-0.9zM220.8,117.5h0.9v0.9h-0.9zM245.1,126.7h0.9v0.9h-0.9zM248.4,139.9h0.9v0.9h-0.9zM259.5,140.7h0.9v0.9h-0.9zM243.3,123.0h0.9v0.9h-0.9zM256.1,143.7h0.9v0.9h-0.9zM261.2,139.3h0.9v0.9h-0.9zM273.6,113.9h0.9v0.9h-0.9zM216.5,133.0h0.9v0.9h-0.9zM247.4,132.6h0.9v0.9h-0.9zM248.0,129.0h0.9v0.9h-0.9zM267.7,132.4h0.9v0.9h-0.9zM234.7,127.6h0.9v0.9h-0.9zM261.4,132.9h0.9v0.9h-0.9zM243.1,138.5h0.9v0.9h-0.9zM240.0,128.1h0.9v0.9h-0.9zM226.7,141.7h0.9v0.9h-0.9zM242.1,131.1h0.9v0.9h-0.9zM266.4,133.9h0.9v0.9h-0.9zM249.0,122.9h0.9v0.9h-0.9zM228.6,136.4h0.9v0.9h-0.9zM244.7,118.4h0.9v0.9h-0.9zM258.6,128.5h0.9v0.9h-0.9zM241.4,124.7h0.9v0.9h-0.9zM249.8,131.8h0.9v0.9h-0.9zM235.3,134.1h0.9v0.9h-0.9zM231.3,128.8h0.9v0.9h-0.9zM258.9,139.8h0.9v0.9h-0.9zM238.4,144.3h0.9v0.9h-0.9zM232.7,127.8h0.9v0.9h-0.9zM232.0,136.6h0.9v0.9h-0.9zM219.1,144.4h0.9v0.9h-0.9zM228.9,133.0h0.9v0.9h-0.9zM223.1,134.3h0.9v0.9h-0.9zM235.1,142.0h0.9v0.9h-0.9zM235.3,131.8h0.9v0.9h-0.9zM210.0,122.3h0.9v0.9h-0.9zM223.8,126.1h0.9v0.9h-0.9zM237.5,128.5h0.9v0.9h-0.9zM249.7,134.8h0.9v0.9h-0.9zM229.4,125.8h0.9v0.9h-0.9zM249.8,130.3h0.9v0.9h-0.9zM249.5,146.0h0.9v0.9h-0.9zM220.0,123.6h0.9v0.9h-0.9zM254.2,131.8h0.9v0.9h-0.9zM255.5,107.0h0.9v0.9h-0.9zM219.6,137.7h0.9v0.9h-0.9zM260.2,135.0h0.9v0.9h-0.9zM270.0,138.5h0.9v0.9h-0.9zM271.4,137.6h0.9v0.9h-0.9zM277.5,138.4h0.9v0.9h-0.9zM261.5,123.3h0.9v0.9h-0.9zM287.3,125.6h0.9v0.9h-0.9zM270.0,120.7h0.9v0.9h-0.9zM267.9,122.8h0.9v0.9h-0.9zM271.1,123.7h0.9v0.9h-0.9zM263.3,127.3h0.9v0.9h-0.9zM281.8,141.0h0.9v0.9h-0.9zM272.6,118.5h0.9v0.9h-0.9zM267.0,129.2h0.9v0.9h-0.9zM272.8,128.4h0.9v0.9h-0.9zM284.1,137.0h0.9v0.9h-0.9zM258.9,111.8h0.9v0.9h-0.9zM280.9,132.4h0.9v0.9h-0.9zM260.4,132.4h0.9v0.9h-0.9zM243.4,130.6h0.9v0.9h-0.9zM285.2,133.7h0.9v0.9h-0.9zM303.9,109.3h0.9v0.9h-0.9zM269.4,119.9h0.9v0.9h-0.9zM258.1,119.7h0.9v0.9h-0.9z" fill="#aaa"/>
<path d="M255.9,130.7h0.9v0.9h-0.9zM247.4,138.0h0.9v0.9h-0.9zM233.9,135.0h0.9v0.9h-0.9zM256.2,140.7h0.9v0.9h-0.9zM236.0,111.9h0.9v0.9h-0.9zM219.0,129.6h0.9v0.9h-0.9zM240.0,132.2h0.9v0.9h-0.9zM251.7,125.9h0.9v0.9h-0.9zM230.4,144.5h0.9v0.9h-0.9zM239.1,134.7h0.9v0.9h-0.9zM218.7,127.0h0.9v0.9h-0.9zM240.5,128.6h0.9v0.9h-0.9zM213.5,120.7h0.9v0.9h-0.9zM230.5,134.3h0.9v0.9h-0.9zM241.2,138.9h0.9v0.9h-0.9zM246.9,134.0h0.9v0.9h-0.9zM252.6,135.5h0.9v0.9h-0.9zM242.0,138.8h0.9v0.9h-0.9zM227.3,124.3h0.9v0.9h-0.9zM219.6,131.0h0.9v0.9h-0.9zM222.7,131.5h0.9v0.9h-0.9zM228.0,139.1h0.9v0.9h-0.9zM249.9,133.1h0.9v0.9h-0.9zM252.1,142.3h0.9v0.9h-0.9zM245.2,132.5h0.9v0.9h-0.9zM222.9,137.8h0.9v0.9h-0.9zM246.5,136.7h0.9v0.9h-0.9zM229.7,130.8h0.9v0.9h-0.9zM242.0,125.0h0.9v0.9h-0.9zM239.1,144.9h0.9v0.9h-0.9zM241.8,138.3h0.9v0.9h-0.9zM260.5,137.7h0.9v0.9h-0.9zM231.1,142.9h0.9v0.9h-0.9zM232.5,134.2h0.9v0.9h-0.9zM248.8,124.3h0.9v0.9h-0.9zM234.9,117.2h0.9v0.9h-0.9zM228.4,124.6h0.9v0.9h-0.9zM240.0,138.6h0.9v0.9h-0.9zM228.6,128.6h0.9v0.9h-0.9zM233.0,132.9h0.9v0.9h-0.9zM242.8,136.4h0.9v0.9h-0.9zM232.0,125.7h0.9v0.9h-0.9zM229.6,127.4h0.9v0.9h-0.9zM253.1,130.3h0.9v0.9h-0.9zM225.8,142.0h0.9v0.9h-0.9zM259.6,134.4h0.9v0.9h-0.9zM253.0,122.6h0.9v0.9h-0.9zM260.9,122.8h0.9v0.9h-0.9zM275.8,137.2h0.9v0.9h-0.9zM266.1,127.4h0.9v0.9h-0.9zM233.8,137.5h0.9v0.9h-0.9zM276.0,122.8h0.9v0.9h-0.9zM264.2,111.6h0.9v0.9h-0.9zM250.1,124.1h0.9v0.9h-0.9zM268.9,128.6h0.9v0.9h-0.9zM262.5,121.0h0.9v0.9h-0.9zM256.1,118.6h0.9v0.9h-0.9zM272.3,125.1h0.9v0.9h-0.9zM285.4,112.0h0.9v0.9h-0.9zM285.8,136.4h0.9v0.9h-0.9zM260.0,128.0h0.9v0.9h-0.9zM252.5,147.1h0.9v0.9h-0.9zM260.4,137.3h0.9v0.9h-0.9z" fill="#666"/>
<path d="M231.9,146.5h0.9v0.9h-0.9zM250.6,130.8h0.9v0.9h-0.9zM219.3,124.3h0.9v0.9h-0.9zM222.2,138.9h0.9v0.9h-0.9zM253.9,133.1h0.9v0.9h-0.9zM219.4,135.3h0.9v0.9h-0.9zM216.9,127.5h0.9v0.9h-0.9zM217.6,123.5h0.9v0.9h-0.9zM230.3,138.3h0.9v0.9h-0.9zM220.3,130.4h0.9v0.9h-0.9zM225.8,137.0h0.9v0.9h-0.9zM228.4,121.0h0.9v0.9h-0.9zM264.3,124.6h0.9v0.9h-0.9zM251.0,124.7h0.9v0.9h-0.9zM224.1,146.4h0.9v0.9h-0.9zM251.2,124.9h0.9v0.9h-0.9zM243.0,118.1h0.9v0.9h-0.9zM210.5,119.1h0.9v0.9h-0.9zM233.2,134.0h0.9v0.9h-0.9zM237.3,145.8h0.9v0.9h-0.9zM240.6,137.0h0.9v0.9h-0.9zM212.9,133.9h0.9v0.9h-0.9zM209.0,138.0h0.9v0.9h-0.9zM250.0,129.2h0.9v0.9h-0.9zM269.2,137.6h0.9v0.9h-0.9zM219.1,118.3h0.9v0.9h-0.9zM249.3,121.5h0.9v0.9h-0.9zM235.6,134.8h0.9v0.9h-0.9zM241.8,134.6h0.9v0.9h-0.9zM252.3,134.8h0.9v0.9h-0.9zM237.3,124.8h0.9v0.9h-0.9zM223.4,132.0h0.9v0.9h-0.9zM257.5,124.9h0.9v0.9h-0.9zM231.4,133.5h0.9v0.9h-0.9zM234.3,136.6h0.9v0.9h-0.9zM222.8,128.5h0.9v0.9h-0.9zM240.0,128.2h0.9v0.9h-0.9zM213.4,144.8h0.9v0.9h-0.9zM232.7,134.8h0.9v0.9h-0.9zM238.4,127.7h0.9v0.9h-0.9zM232.5,136.6h0.9v0.9h-0.9zM242.9,117.0h0.9v0.9h-0.9zM230.8,144.8h0.9v0.9h-0.9zM222.1,127.2h0.9v0.9h-0.9zM230.5,119.1h0.9v0.9h-0.9zM226.0,144.8h0.9v0.9h-0.9zM229.8,128.4h0.9v0.9h-0.9zM241.4,124.3h0.9v0.9h-0.9zM266.2,133.6h0.9v0.9h-0.9zM234.4,141.6h0.9v0.9h-0.9zM279.3,132.0h0.9v0.9h-0.9zM273.6,106.6h0.9v0.9h-0.9zM251.6,131.3h0.9v0.9h-0.9zM254.2,119.3h0.9v0.9h-0.9zM279.6,119.7h0.9v0.9h-0.9zM268.9,120.9h0.9v0.9h-0.9zM277.4,129.5h0.9v0.9h-0.9zM235.8,128.7h0.9v0.9h-0.9zM272.2,116.7h0.9v0.9h-0.9zM291.0,135.5h0.9v0.9h-0.9zM275.7,112.5h0.9v0.9h-0.9zM251.3,129.6h0.9v0.9h-0.9zM267.9,136.6h0.9v0.9h-0.9zM271.5,117.4h0.9v0.9h-0.9zM260.3,121.4h0.9v0.9h-0.9zM263.0,126.0h0.9v0.9h-0.9zM300.4,126.2h0.9v0.9h-0.9zM278.9,103.0h0.9v0.9h-0.9z" fill="#999"/>
</g>
<polyline points="206.3,121 237.3,100.8 222.9,149.4" fill="none" stroke="#222" stroke-width="0.75"/>
<polyline points="225.9,149.4 242.3,98.8 339.6,97.2 339.6,149.4" fill="none" stroke="#222" stroke-width="0.75"/>
<path d="M206.3,5.9H350.3V149.4" fill="none" stroke="#111" stroke-width="1.0"/>
<path d="M206.3,5.4V149.4H350.8" fill="none" stroke="#000" stroke-width="1.45"/>
<path d="M201.7,149.4H206.3M206.3,149.4V153.6M203.9,138.65H206.3M217.09,149.4V151.8M203.9,132.37H206.3M223.4,149.4V151.8M203.9,127.91H206.3M227.88,149.4V151.8M203.9,124.45H206.3M231.36,149.4V151.8M203.9,121.62H206.3M234.2,149.4V151.8M203.9,119.23H206.3M236.6,149.4V151.8M203.9,117.16H206.3M238.68,149.4V151.8M203.9,115.33H206.3M240.51,149.4V151.8M201.7,113.7H206.3M242.15,149.4V153.6M203.9,102.95H206.3M252.94,149.4V151.8M203.9,96.67H206.3M259.25,149.4V151.8M203.9,92.21H206.3M263.73,149.4V151.8M203.9,88.75H206.3M267.21,149.4V151.8M203.9,85.92H206.3M270.05,149.4V151.8M203.9,83.53H206.3M272.45,149.4V151.8M203.9,81.46H206.3M274.53,149.4V151.8M203.9,79.63H206.3M276.36,149.4V151.8M201.7,78H206.3M278,149.4V153.6M203.9,67.25H206.3M288.79,149.4V151.8M203.9,60.97H206.3M295.1,149.4V151.8M203.9,56.51H206.3M299.58,149.4V151.8M203.9,53.05H206.3M303.06,149.4V151.8M203.9,50.22H206.3M305.9,149.4V151.8M203.9,47.83H206.3M308.3,149.4V151.8M203.9,45.76H206.3M310.38,149.4V151.8M203.9,43.93H206.3M312.21,149.4V151.8M201.7,42.3H206.3M313.85,149.4V153.6M203.9,31.55H206.3M324.64,149.4V151.8M203.9,25.27H206.3M330.95,149.4V151.8M203.9,20.81H206.3M335.43,149.4V151.8M203.9,17.35H206.3M338.91,149.4V151.8M203.9,14.52H206.3M341.75,149.4V151.8M203.9,12.13H206.3M344.15,149.4V151.8M203.9,10.06H206.3M346.23,149.4V151.8M203.9,8.23H206.3M348.06,149.4V151.8M201.7,6.6H206.3M349.7,149.4V153.6" stroke="#111" stroke-width="0.8" fill="none"/>
<text x="187.8" y="152" font-size="7.6" font-family="Liberation Sans, sans-serif" fill="#222">10<tspan dy="-4.6" dx="0.2" font-size="7">0</tspan></text>
<text x="204.9" y="168.4" font-size="7.6" font-family="Liberation Sans, sans-serif" fill="#222">10<tspan dy="-4.8" dx="0.2" font-size="7">0</tspan></text>
<text x="187.8" y="116.3" font-size="7.6" font-family="Liberation Sans, sans-serif" fill="#222">10<tspan dy="-4.6" dx="0.2" font-size="7">1</tspan></text>
<text x="238.75" y="168.4" font-size="7.6" font-family="Liberation Sans, sans-serif" fill="#222">10<tspan dy="-4.8" dx="0.2" font-size="7">1</tspan></text>
<text x="187.8" y="80.6" font-size="7.6" font-family="Liberation Sans, sans-serif" fill="#222">10<tspan dy="-4.6" dx="0.2" font-size="7">2</tspan></text>
<text x="272.6" y="168.4" font-size="7.6" font-family="Liberation Sans, sans-serif" fill="#222">10<tspan dy="-4.8" dx="0.2" font-size="7">2</tspan></text>
<text x="187.8" y="44.9" font-size="7.6" font-family="Liberation Sans, sans-serif" fill="#222">10<tspan dy="-4.6" dx="0.2" font-size="7">3</tspan></text>
<text x="306.45" y="168.4" font-size="7.6" font-family="Liberation Sans, sans-serif" fill="#222">10<tspan dy="-4.8" dx="0.2" font-size="7">3</tspan></text>
<text x="340.3" y="168.4" font-size="7.6" font-family="Liberation Sans, sans-serif" fill="#222">10<tspan dy="-4.8" dx="0.2" font-size="7">4</tspan></text>
<rect x="212.3" y="12.3" width="51.4" height="16.1" fill="#fff" stroke="#333" stroke-width="0.9"/>
<text x="214.5" y="21.9" font-size="6.95" font-family="Liberation Sans, sans-serif" fill="#222">Unstimulated</text>
<text x="300.7" y="107" font-size="6.9" font-family="Liberation Sans, sans-serif" fill="#222">pStat3 pos</text>
<text x="300.7" y="116.6" font-size="7.0" font-family="Liberation Sans, sans-serif" fill="#222">56.07</text>
</g>
<g clip-path="url(#tc)"><text x="187.8" y="9.4" font-size="7.6" font-family="Liberation Sans, sans-serif" fill="#222">10</text></g>
<g transform="translate(0,1.1)">
<rect x="369.8" y="5.9" width="144" height="143.5" fill="#fff" stroke="none"/>
<g filter="url(#bl)">
<path d="M391.8,134.4h1v1h-1zM393.8,129.4h1v1h-1zM393.8,140.4h1v1h-1zM394.8,140.4h1v1h-1zM395.8,139.4h1v1h-1zM395.8,140.4h1v1h-1zM395.8,145.4h1v1h-1zM397.8,127.4h1v1h-1zM397.8,134.4h1v1h-1zM399.8,133.4h1v1h-1zM399.8,136.4h1v1h-1zM399.8,138.4h1v1h-1zM399.8,141.4h1v1h-1zM400.8,128.4h1v1h-1zM400.8,132.4h1v1h-1zM400.8,134.4h1v1h-1zM400.8,140.4h1v1h-1zM400.8,141.4h1v1h-1zM400.8,143.4h1v1h-1zM400.8,145.4h1v1h-1zM401.8,127.4h1v1h-1zM401.8,133.4h1v1h-1zM401.8,140.4h1v1h-1zM401.8,141.4h1v1h-1zM401.8,145.4h1v1h-1zM402.8,127.4h1v1h-1zM402.8,128.4h1v1h-1zM402.8,132.4h1v1h-1zM402.8,133.4h1v1h-1zM402.8,138.4h1v1h-1zM402.8,139.4h1v1h-1zM402.8,140.4h1v1h-1zM402.8,145.4h1v1h-1zM403.8,131.4h1v1h-1zM403.8,134.4h1v1h-1zM403.8,135.4h1v1h-1zM403.8,139.4h1v1h-1zM403.8,140.4h1v1h-1zM404.8,121.4h1v1h-1zM404.8,127.4h1v1h-1zM404.8,128.4h1v1h-1zM404.8,130.4h1v1h-1zM404.8,132.4h1v1h-1zM404.8,134.4h1v1h-1zM404.8,135.4h1v1h-1zM404.8,138.4h1v1h-1zM404.8,141.4h1v1h-1zM404.8,145.4h1v1h-1zM404.8,147.4h1v1h-1zM405.8,131.4h1v1h-1zM405.8,133.4h1v1h-1zM405.8,135.4h1v1h-1zM405.8,136.4h1v1h-1zM405.8,138.4h1v1h-1zM405.8,139.4h1v1h-1zM405.8,145.4h1v1h-1zM406.8,127.4h1v1h-1zM406.8,128.4h1v1h-1zM406.8,130.4h1v1h-1zM406.8,131.4h1v1h-1zM406.8,133.4h1v1h-1zM406.8,137.4h1v1h-1zM406.8,138.4h1v1h-1zM406.8,142.4h1v1h-1zM406.8,143.4h1v1h-1zM406.8,144.4h1v1h-1zM407.8,116.4h1v1h-1zM407.8,120.4h1v1h-1zM407.8,121.4h1v1h-1zM407.8,123.4h1v1h-1zM407.8,126.4h1v1h-1zM407.8,127.4h1v1h-1zM407.8,132.4h1v1h-1zM407.8,135.4h1v1h-1zM407.8,140.4h1v1h-1zM407.8,145.4h1v1h-1zM408.8,122.4h1v1h-1zM408.8,142.4h1v1h-1zM408.8,146.4h1v1h-1zM409.8,123.4h1v1h-1zM409.8,125.4h1v1h-1zM409.8,144.4h1v1h-1zM409.8,147.4h1v1h-1zM410.8,118.4h1v1h-1zM410.8,119.4h1v1h-1zM410.8,123.4h1v1h-1zM410.8,124.4h1v1h-1zM410.8,126.4h1v1h-1zM410.8,128.4h1v1h-1zM410.8,146.4h1v1h-1zM411.8,121.4h1v1h-1zM411.8,124.4h1v1h-1zM411.8,128.4h1v1h-1zM411.8,129.4h1v1h-1zM411.8,142.4h1v1h-1zM411.8,144.4h1v1h-1zM411.8,147.4h1v1h-1zM412.8,116.4h1v1h-1zM412.8,120.4h1v1h-1zM412.8,127.4h1v1h-1zM412.8,142.4h1v1h-1zM412.8,144.4h1v1h-1zM413.8,117.4h1v1h-1zM413.8,120.4h1v1h-1zM413.8,146.4h1v1h-1zM414.8,142.4h1v1h-1zM414.8,143.4h1v1h-1zM414.8,146.4h1v1h-1zM415.8,117.4h1v1h-1zM415.8,122.4h1v1h-1zM415.8,145.4h1v1h-1zM416.8,115.4h1v1h-1zM416.8,119.4h1v1h-1zM416.8,123.4h1v1h-1zM416.8,146.4h1v1h-1zM417.8,123.4h1v1h-1zM417.8,124.4h1v1h-1zM417.8,126.4h1v1h-1zM417.8,144.4h1v1h-1zM418.8,122.4h1v1h-1zM418.8,123.4h1v1h-1zM418.8,124.4h1v1h-1zM418.8,145.4h1v1h-1zM418.8,146.4h1v1h-1zM418.8,147.4h1v1h-1zM419.8,120.4h1v1h-1zM419.8,121.4h1v1h-1zM419.8,144.4h1v1h-1zM419.8,145.4h1v1h-1zM420.8,122.4h1v1h-1zM420.8,123.4h1v1h-1zM420.8,124.4h1v1h-1zM420.8,146.4h1v1h-1zM420.8,147.4h1v1h-1zM421.8,125.4h1v1h-1zM421.8,144.4h1v1h-1zM421.8,145.4h1v1h-1zM421.8,146.4h1v1h-1zM422.8,121.4h1v1h-1zM422.8,125.4h1v1h-1zM422.8,146.4h1v1h-1zM423.8,119.4h1v1h-1zM423.8,144.4h1v1h-1zM424.8,118.4h1v1h-1zM424.8,123.4h1v1h-1zM424.8,125.4h1v1h-1zM424.8,126.4h1v1h-1zM424.8,127.4h1v1h-1zM424.8,144.4h1v1h-1zM424.8,146.4h1v1h-1zM425.8,119.4h1v1h-1zM425.8,120.4h1v1h-1zM425.8,123.4h1v1h-1zM425.8,126.4h1v1h-1zM425.8,144.4h1v1h-1zM426.8,121.4h1v1h-1zM426.8,122.4h1v1h-1zM426.8,126.4h1v1h-1zM426.8,143.4h1v1h-1zM426.8,144.4h1v1h-1zM426.8,146.4h1v1h-1zM427.8,122.4h1v1h-1zM427.8,123.4h1v1h-1zM427.8,125.4h1v1h-1zM427.8,143.4h1v1h-1zM427.8,144.4h1v1h-1zM427.8,145.4h1v1h-1zM428.8,115.4h1v1h-1zM428.8,124.4h1v1h-1zM428.8,127.4h1v1h-1zM428.8,142.4h1v1h-1zM428.8,143.4h1v1h-1zM428.8,144.4h1v1h-1zM428.8,146.4h1v1h-1zM429.8,117.4h1v1h-1zM429.8,123.4h1v1h-1zM429.8,124.4h1v1h-1zM429.8,125.4h1v1h-1zM429.8,128.4h1v1h-1zM429.8,139.4h1v1h-1zM429.8,144.4h1v1h-1zM429.8,145.4h1v1h-1zM429.8,146.4h1v1h-1zM429.8,147.4h1v1h-1zM430.8,122.4h1v1h-1zM430.8,124.4h1v1h-1zM430.8,126.4h1v1h-1zM430.8,128.4h1v1h-1zM430.8,134.4h1v1h-1zM430.8,141.4h1v1h-1zM431.8,124.4h1v1h-1zM431.8,125.4h1v1h-1zM431.8,126.4h1v1h-1zM431.8,127.4h1v1h-1zM431.8,128.4h1v1h-1zM431.8,137.4h1v1h-1zM431.8,138.4h1v1h-1zM431.8,139.4h1v1h-1zM431.8,140.4h1v1h-1zM431.8,142.4h1v1h-1zM431.8,145.4h1v1h-1zM432.8,123.4h1v1h-1zM432.8,126.4h1v1h-1zM432.8,129.4h1v1h-1zM432.8,130.4h1v1h-1zM432.8,132.4h1v1h-1zM432.8,133.4h1v1h-1zM432.8,134.4h1v1h-1zM432.8,136.4h1v1h-1zM432.8,137.4h1v1h-1zM432.8,138.4h1v1h-1zM432.8,141.4h1v1h-1zM432.8,143.4h1v1h-1zM432.8,146.4h1v1h-1zM433.8,123.4h1v1h-1zM433.8,129.4h1v1h-1zM433.8,131.4h1v1h-1zM433.8,132.4h1v1h-1zM433.8,133.4h1v1h-1zM433.8,136.4h1v1h-1zM433.8,137.4h1v1h-1zM433.8,139.4h1v1h-1zM433.8,141.4h1v1h-1zM434.8,128.4h1v1h-1zM434.8,129.4h1v1h-1zM434.8,133.4h1v1h-1zM434.8,134.4h1v1h-1zM434.8,135.4h1v1h-1zM434.8,136.4h1v1h-1zM434.8,137.4h1v1h-1zM434.8,141.4h1v1h-1zM435.8,127.4h1v1h-1zM435.8,129.4h1v1h-1zM435.8,130.4h1v1h-1zM435.8,131.4h1v1h-1zM435.8,132.4h1v1h-1zM435.8,133.4h1v1h-1zM435.8,138.4h1v1h-1zM435.8,140.4h1v1h-1zM435.8,143.4h1v1h-1zM436.8,128.4h1v1h-1zM436.8,130.4h1v1h-1zM436.8,132.4h1v1h-1zM436.8,143.4h1v1h-1zM437.8,124.4h1v1h-1zM437.8,126.4h1v1h-1zM437.8,138.4h1v1h-1zM438.8,130.4h1v1h-1zM438.8,132.4h1v1h-1zM438.8,137.4h1v1h-1zM438.8,139.4h1v1h-1zM438.8,141.4h1v1h-1zM439.8,119.4h1v1h-1zM439.8,128.4h1v1h-1zM439.8,129.4h1v1h-1zM439.8,136.4h1v1h-1zM439.8,137.4h1v1h-1zM439.8,143.4h1v1h-1zM440.8,133.4h1v1h-1zM440.8,134.4h1v1h-1zM440.8,135.4h1v1h-1zM440.8,142.4h1v1h-1zM440.8,145.4h1v1h-1zM441.8,129.4h1v1h-1zM441.8,136.4h1v1h-1zM442.8,128.4h1v1h-1zM442.8,131.4h1v1h-1zM442.8,141.4h1v1h-1zM443.8,126.4h1v1h-1zM443.8,134.4h1v1h-1zM443.8,143.4h1v1h-1zM444.8,132.4h1v1h-1zM444.8,144.4h1v1h-1zM445.8,126.4h1v1h-1zM445.8,131.4h1v1h-1zM445.8,140.4h1v1h-1zM448.8,124.4h1v1h-1zM449.8,137.4h1v1h-1zM450.8,132.4h1v1h-1z" fill="#1a1a1a"/>
<path d="M392.8,139.4h1v1h-1zM395.8,123.4h1v1h-1zM395.8,132.4h1v1h-1zM396.8,133.4h1v1h-1zM396.8,142.4h1v1h-1zM397.8,132.4h1v1h-1zM398.8,129.4h1v1h-1zM398.8,136.4h1v1h-1zM398.8,141.4h1v1h-1zM401.8,124.4h1v1h-1zM401.8,129.4h1v1h-1zM401.8,131.4h1v1h-1zM401.8,135.4h1v1h-1zM402.8,135.4h1v1h-1zM402.8,141.4h1v1h-1zM403.8,128.4h1v1h-1zM403.8,144.4h1v1h-1zM403.8,145.4h1v1h-1zM403.8,147.4h1v1h-1zM404.8,136.4h1v1h-1zM404.8,137.4h1v1h-1zM404.8,140.4h1v1h-1zM404.8,142.4h1v1h-1zM405.8,129.4h1v1h-1zM405.8,134.4h1v1h-1zM405.8,137.4h1v1h-1zM405.8,141.4h1v1h-1zM405.8,144.4h1v1h-1zM406.8,141.4h1v1h-1zM407.8,130.4h1v1h-1zM407.8,137.4h1v1h-1zM407.8,142.4h1v1h-1zM408.8,127.4h1v1h-1zM408.8,128.4h1v1h-1zM408.8,129.4h1v1h-1zM408.8,144.4h1v1h-1zM409.8,116.4h1v1h-1zM409.8,128.4h1v1h-1zM409.8,145.4h1v1h-1zM410.8,129.4h1v1h-1zM410.8,132.4h1v1h-1zM410.8,145.4h1v1h-1zM411.8,125.4h1v1h-1zM411.8,127.4h1v1h-1zM412.8,123.4h1v1h-1zM412.8,126.4h1v1h-1zM412.8,143.4h1v1h-1zM413.8,122.4h1v1h-1zM413.8,123.4h1v1h-1zM413.8,125.4h1v1h-1zM413.8,126.4h1v1h-1zM413.8,143.4h1v1h-1zM414.8,126.4h1v1h-1zM415.8,121.4h1v1h-1zM415.8,126.4h1v1h-1zM415.8,144.4h1v1h-1zM416.8,120.4h1v1h-1zM416.8,147.4h1v1h-1zM417.8,145.4h1v1h-1zM417.8,147.4h1v1h-1zM418.8,119.4h1v1h-1zM418.8,121.4h1v1h-1zM418.8,125.4h1v1h-1zM419.8,125.4h1v1h-1zM419.8,146.4h1v1h-1zM420.8,126.4h1v1h-1zM420.8,145.4h1v1h-1zM421.8,121.4h1v1h-1zM421.8,123.4h1v1h-1zM421.8,124.4h1v1h-1zM421.8,143.4h1v1h-1zM422.8,119.4h1v1h-1zM422.8,126.4h1v1h-1zM423.8,121.4h1v1h-1zM423.8,126.4h1v1h-1zM423.8,127.4h1v1h-1zM423.8,145.4h1v1h-1zM423.8,146.4h1v1h-1zM424.8,116.4h1v1h-1zM424.8,124.4h1v1h-1zM424.8,147.4h1v1h-1zM425.8,122.4h1v1h-1zM425.8,125.4h1v1h-1zM425.8,127.4h1v1h-1zM425.8,143.4h1v1h-1zM426.8,141.4h1v1h-1zM427.8,126.4h1v1h-1zM427.8,146.4h1v1h-1zM429.8,127.4h1v1h-1zM429.8,129.4h1v1h-1zM430.8,138.4h1v1h-1zM431.8,116.4h1v1h-1zM431.8,129.4h1v1h-1zM431.8,135.4h1v1h-1zM431.8,143.4h1v1h-1zM431.8,146.4h1v1h-1zM432.8,124.4h1v1h-1zM432.8,135.4h1v1h-1zM432.8,140.4h1v1h-1zM432.8,142.4h1v1h-1zM433.8,125.4h1v1h-1zM433.8,126.4h1v1h-1zM433.8,135.4h1v1h-1zM433.8,138.4h1v1h-1zM434.8,119.4h1v1h-1zM434.8,121.4h1v1h-1zM434.8,125.4h1v1h-1zM434.8,138.4h1v1h-1zM434.8,140.4h1v1h-1zM435.8,134.4h1v1h-1zM435.8,135.4h1v1h-1zM435.8,137.4h1v1h-1zM435.8,142.4h1v1h-1zM436.8,136.4h1v1h-1zM436.8,138.4h1v1h-1zM436.8,139.4h1v1h-1zM436.8,146.4h1v1h-1zM437.8,127.4h1v1h-1zM437.8,133.4h1v1h-1zM437.8,134.4h1v1h-1zM437.8,135.4h1v1h-1zM437.8,145.4h1v1h-1zM437.8,146.4h1v1h-1zM438.8,134.4h1v1h-1zM440.8,139.4h1v1h-1zM441.8,125.4h1v1h-1zM445.8,134.4h1v1h-1zM446.8,137.4h1v1h-1z" fill="#555"/>
<path d="M396.8,132.4h1v1h-1zM398.8,131.4h1v1h-1zM399.8,137.4h1v1h-1zM399.8,142.4h1v1h-1zM400.8,138.4h1v1h-1zM402.8,122.4h1v1h-1zM403.8,137.4h1v1h-1zM403.8,138.4h1v1h-1zM405.8,122.4h1v1h-1zM405.8,132.4h1v1h-1zM406.8,125.4h1v1h-1zM409.8,143.4h1v1h-1zM409.8,146.4h1v1h-1zM410.8,147.4h1v1h-1zM411.8,126.4h1v1h-1zM411.8,146.4h1v1h-1zM415.8,116.4h1v1h-1zM415.8,125.4h1v1h-1zM416.8,124.4h1v1h-1zM416.8,125.4h1v1h-1zM418.8,126.4h1v1h-1zM423.8,117.4h1v1h-1zM423.8,125.4h1v1h-1zM424.8,145.4h1v1h-1zM425.8,121.4h1v1h-1zM425.8,146.4h1v1h-1zM426.8,124.4h1v1h-1zM427.8,124.4h1v1h-1zM428.8,120.4h1v1h-1zM429.8,126.4h1v1h-1zM429.8,143.4h1v1h-1zM430.8,125.4h1v1h-1zM431.8,147.4h1v1h-1zM432.8,128.4h1v1h-1zM434.8,126.4h1v1h-1zM434.8,132.4h1v1h-1zM434.8,142.4h1v1h-1zM435.8,126.4h1v1h-1zM435.8,139.4h1v1h-1zM438.8,125.4h1v1h-1zM438.8,129.4h1v1h-1zM439.8,126.4h1v1h-1zM442.8,121.4h1v1h-1zM439.6,132.9h0.9v0.9h-0.9zM417.9,122.9h0.9v0.9h-0.9zM427.7,120.3h0.9v0.9h-0.9zM412.9,117.8h0.9v0.9h-0.9zM466.2,132.6h0.9v0.9h-0.9zM417.4,120.7h0.9v0.9h-0.9zM437.0,134.7h0.9v0.9h-0.9zM431.7,134.6h0.9v0.9h-0.9zM413.0,125.8h0.9v0.9h-0.9zM419.0,133.1h0.9v0.9h-0.9zM424.6,137.0h0.9v0.9h-0.9zM415.0,140.2h0.9v0.9h-0.9zM433.1,111.7h0.9v0.9h-0.9zM418.6,119.6h0.9v0.9h-0.9zM407.4,125.2h0.9v0.9h-0.9zM403.1,121.8h0.9v0.9h-0.9zM426.5,130.1h0.9v0.9h-0.9zM427.0,136.7h0.9v0.9h-0.9zM410.7,115.0h0.9v0.9h-0.9zM408.9,131.7h0.9v0.9h-0.9zM419.7,128.8h0.9v0.9h-0.9zM403.2,134.6h0.9v0.9h-0.9zM463.6,134.3h0.9v0.9h-0.9zM414.8,122.4h0.9v0.9h-0.9zM386.3,143.9h0.9v0.9h-0.9zM406.0,128.9h0.9v0.9h-0.9zM443.5,118.6h0.9v0.9h-0.9zM467.6,146.0h0.9v0.9h-0.9zM385.5,130.4h0.9v0.9h-0.9zM380.2,118.4h0.9v0.9h-0.9zM392.7,141.7h0.9v0.9h-0.9zM412.7,127.4h0.9v0.9h-0.9zM412.6,139.2h0.9v0.9h-0.9zM411.4,133.5h0.9v0.9h-0.9zM415.6,131.9h0.9v0.9h-0.9zM422.6,131.0h0.9v0.9h-0.9zM403.5,120.1h0.9v0.9h-0.9zM426.0,133.9h0.9v0.9h-0.9zM381.7,131.3h0.9v0.9h-0.9zM444.8,119.5h0.9v0.9h-0.9zM393.9,125.2h0.9v0.9h-0.9zM422.0,127.1h0.9v0.9h-0.9zM416.3,115.6h0.9v0.9h-0.9zM436.1,134.0h0.9v0.9h-0.9zM400.2,122.3h0.9v0.9h-0.9zM428.8,135.0h0.9v0.9h-0.9zM379.5,131.1h0.9v0.9h-0.9zM417.2,140.3h0.9v0.9h-0.9zM438.4,128.2h0.9v0.9h-0.9zM412.9,129.0h0.9v0.9h-0.9zM441.1,121.1h0.9v0.9h-0.9zM404.8,130.0h0.9v0.9h-0.9zM423.3,137.8h0.9v0.9h-0.9zM433.8,132.4h0.9v0.9h-0.9zM436.5,128.9h0.9v0.9h-0.9zM431.1,132.4h0.9v0.9h-0.9zM415.4,122.3h0.9v0.9h-0.9zM406.7,129.9h0.9v0.9h-0.9zM401.4,142.3h0.9v0.9h-0.9zM422.5,124.9h0.9v0.9h-0.9zM417.5,126.3h0.9v0.9h-0.9zM415.8,121.4h0.9v0.9h-0.9zM479.5,137.2h0.9v0.9h-0.9zM429.0,111.4h0.9v0.9h-0.9zM423.0,108.9h0.9v0.9h-0.9zM375.2,135.4h0.9v0.9h-0.9zM446.6,131.4h0.9v0.9h-0.9zM439.7,129.7h0.9v0.9h-0.9zM405.0,128.1h0.9v0.9h-0.9zM435.0,126.8h0.9v0.9h-0.9zM402.0,118.5h0.9v0.9h-0.9zM407.7,129.1h0.9v0.9h-0.9zM435.2,144.4h0.9v0.9h-0.9zM412.4,139.5h0.9v0.9h-0.9zM410.5,143.0h0.9v0.9h-0.9zM420.6,122.8h0.9v0.9h-0.9zM428.0,129.0h0.9v0.9h-0.9zM393.3,136.3h0.9v0.9h-0.9zM390.3,139.0h0.9v0.9h-0.9zM383.5,130.9h0.9v0.9h-0.9zM390.3,132.9h0.9v0.9h-0.9zM412.0,129.7h0.9v0.9h-0.9zM376.4,142.6h0.9v0.9h-0.9zM395.2,120.5h0.9v0.9h-0.9z" fill="#888"/>
<path d="M404.8,133.4h1v1h-1zM406.8,132.4h1v1h-1zM406.8,135.4h1v1h-1zM406.8,139.4h1v1h-1zM407.8,131.4h1v1h-1zM408.8,130.4h1v1h-1zM408.8,131.4h1v1h-1zM408.8,140.4h1v1h-1zM408.8,143.4h1v1h-1zM409.8,127.4h1v1h-1zM409.8,129.4h1v1h-1zM409.8,141.4h1v1h-1zM410.8,127.4h1v1h-1zM410.8,143.4h1v1h-1zM413.8,127.4h1v1h-1zM413.8,129.4h1v1h-1zM413.8,142.4h1v1h-1zM413.8,144.4h1v1h-1zM415.8,146.4h1v1h-1zM416.8,126.4h1v1h-1zM416.8,145.4h1v1h-1zM417.8,125.4h1v1h-1zM417.8,143.4h1v1h-1zM419.8,124.4h1v1h-1zM420.8,143.4h1v1h-1zM421.8,126.4h1v1h-1zM422.8,144.4h1v1h-1zM430.8,132.4h1v1h-1zM430.8,140.4h1v1h-1zM430.8,142.4h1v1h-1zM431.8,141.4h1v1h-1zM432.8,139.4h1v1h-1z" fill="#909090"/>
<path d="M406.8,136.4h1v1h-1zM407.8,133.4h1v1h-1zM409.8,132.4h1v1h-1zM410.8,133.4h1v1h-1zM410.8,139.4h1v1h-1zM411.8,135.4h1v1h-1zM411.8,140.4h1v1h-1zM412.8,128.4h1v1h-1zM412.8,131.4h1v1h-1zM412.8,133.4h1v1h-1zM412.8,136.4h1v1h-1zM412.8,138.4h1v1h-1zM412.8,139.4h1v1h-1zM412.8,140.4h1v1h-1zM413.8,132.4h1v1h-1zM413.8,134.4h1v1h-1zM414.8,127.4h1v1h-1zM414.8,129.4h1v1h-1zM414.8,135.4h1v1h-1zM414.8,136.4h1v1h-1zM414.8,137.4h1v1h-1zM415.8,128.4h1v1h-1zM415.8,141.4h1v1h-1zM416.8,130.4h1v1h-1zM416.8,131.4h1v1h-1zM416.8,135.4h1v1h-1zM416.8,136.4h1v1h-1zM416.8,140.4h1v1h-1zM417.8,128.4h1v1h-1zM417.8,133.4h1v1h-1zM417.8,134.4h1v1h-1zM417.8,135.4h1v1h-1zM417.8,138.4h1v1h-1zM418.8,127.4h1v1h-1zM418.8,133.4h1v1h-1zM418.8,136.4h1v1h-1zM418.8,140.4h1v1h-1zM418.8,142.4h1v1h-1zM419.8,129.4h1v1h-1zM419.8,133.4h1v1h-1zM419.8,135.4h1v1h-1zM419.8,138.4h1v1h-1zM419.8,140.4h1v1h-1zM420.8,129.4h1v1h-1zM420.8,130.4h1v1h-1zM420.8,134.4h1v1h-1zM420.8,137.4h1v1h-1zM420.8,138.4h1v1h-1zM420.8,141.4h1v1h-1zM421.8,133.4h1v1h-1zM421.8,138.4h1v1h-1zM421.8,141.4h1v1h-1zM422.8,131.4h1v1h-1zM422.8,136.4h1v1h-1zM422.8,139.4h1v1h-1zM422.8,141.4h1v1h-1zM422.8,142.4h1v1h-1zM423.8,131.4h1v1h-1zM423.8,132.4h1v1h-1zM423.8,141.4h1v1h-1zM424.8,128.4h1v1h-1zM424.8,129.4h1v1h-1zM424.8,134.4h1v1h-1zM424.8,137.4h1v1h-1zM424.8,142.4h1v1h-1zM425.8,135.4h1v1h-1zM426.8,137.4h1v1h-1zM427.8,129.4h1v1h-1zM427.8,133.4h1v1h-1zM427.8,134.4h1v1h-1zM427.8,135.4h1v1h-1zM427.8,139.4h1v1h-1zM428.8,130.4h1v1h-1zM428.8,131.4h1v1h-1zM429.8,132.4h1v1h-1zM429.8,137.4h1v1h-1zM430.8,133.4h1v1h-1zM430.8,135.4h1v1h-1z" fill="#a0a0a0"/>
<path d="M407.8,129.4h1v1h-1zM407.8,139.4h1v1h-1zM408.8,132.4h1v1h-1zM408.8,139.4h1v1h-1zM409.8,130.4h1v1h-1zM409.8,135.4h1v1h-1zM409.8,138.4h1v1h-1zM409.8,139.4h1v1h-1zM409.8,142.4h1v1h-1zM410.8,134.4h1v1h-1zM410.8,140.4h1v1h-1zM411.8,132.4h1v1h-1zM411.8,133.4h1v1h-1zM411.8,141.4h1v1h-1zM412.8,132.4h1v1h-1zM412.8,135.4h1v1h-1zM413.8,131.4h1v1h-1zM413.8,135.4h1v1h-1zM413.8,136.4h1v1h-1zM413.8,140.4h1v1h-1zM413.8,141.4h1v1h-1zM414.8,131.4h1v1h-1zM414.8,133.4h1v1h-1zM414.8,134.4h1v1h-1zM414.8,138.4h1v1h-1zM414.8,140.4h1v1h-1zM415.8,129.4h1v1h-1zM415.8,130.4h1v1h-1zM415.8,133.4h1v1h-1zM415.8,137.4h1v1h-1zM415.8,143.4h1v1h-1zM416.8,129.4h1v1h-1zM416.8,141.4h1v1h-1zM417.8,127.4h1v1h-1zM417.8,129.4h1v1h-1zM417.8,131.4h1v1h-1zM417.8,137.4h1v1h-1zM417.8,142.4h1v1h-1zM418.8,128.4h1v1h-1zM418.8,132.4h1v1h-1zM418.8,135.4h1v1h-1zM419.8,126.4h1v1h-1zM419.8,127.4h1v1h-1zM419.8,134.4h1v1h-1zM419.8,136.4h1v1h-1zM419.8,137.4h1v1h-1zM419.8,143.4h1v1h-1zM420.8,132.4h1v1h-1zM420.8,136.4h1v1h-1zM420.8,139.4h1v1h-1zM420.8,144.4h1v1h-1zM421.8,129.4h1v1h-1zM421.8,130.4h1v1h-1zM421.8,131.4h1v1h-1zM421.8,132.4h1v1h-1zM421.8,137.4h1v1h-1zM421.8,139.4h1v1h-1zM421.8,140.4h1v1h-1zM421.8,142.4h1v1h-1zM422.8,129.4h1v1h-1zM422.8,133.4h1v1h-1zM422.8,134.4h1v1h-1zM422.8,143.4h1v1h-1zM423.8,130.4h1v1h-1zM423.8,133.4h1v1h-1zM423.8,135.4h1v1h-1zM423.8,138.4h1v1h-1zM424.8,133.4h1v1h-1zM424.8,140.4h1v1h-1zM424.8,141.4h1v1h-1zM425.8,129.4h1v1h-1zM425.8,137.4h1v1h-1zM425.8,140.4h1v1h-1zM426.8,132.4h1v1h-1zM426.8,133.4h1v1h-1zM426.8,134.4h1v1h-1zM426.8,136.4h1v1h-1zM426.8,142.4h1v1h-1zM427.8,130.4h1v1h-1zM427.8,131.4h1v1h-1zM427.8,140.4h1v1h-1zM428.8,132.4h1v1h-1zM428.8,133.4h1v1h-1zM428.8,138.4h1v1h-1zM429.8,130.4h1v1h-1zM429.8,140.4h1v1h-1zM429.8,141.4h1v1h-1zM430.8,130.4h1v1h-1zM430.8,136.4h1v1h-1zM430.8,139.4h1v1h-1zM431.8,132.4h1v1h-1zM431.8,134.4h1v1h-1zM431.8,136.4h1v1h-1z" fill="#d2d2d2"/>
<path d="M407.8,134.4h1v1h-1zM407.8,138.4h1v1h-1zM407.8,141.4h1v1h-1zM408.8,134.4h1v1h-1zM408.8,135.4h1v1h-1zM408.8,136.4h1v1h-1zM408.8,137.4h1v1h-1zM408.8,138.4h1v1h-1zM409.8,131.4h1v1h-1zM409.8,133.4h1v1h-1zM409.8,134.4h1v1h-1zM409.8,136.4h1v1h-1zM409.8,137.4h1v1h-1zM409.8,140.4h1v1h-1zM410.8,130.4h1v1h-1zM410.8,135.4h1v1h-1zM410.8,136.4h1v1h-1zM410.8,137.4h1v1h-1zM410.8,138.4h1v1h-1zM410.8,141.4h1v1h-1zM410.8,142.4h1v1h-1zM411.8,130.4h1v1h-1zM411.8,136.4h1v1h-1zM411.8,137.4h1v1h-1zM412.8,129.4h1v1h-1zM412.8,134.4h1v1h-1zM412.8,137.4h1v1h-1zM412.8,141.4h1v1h-1zM413.8,130.4h1v1h-1zM413.8,137.4h1v1h-1zM413.8,139.4h1v1h-1zM414.8,128.4h1v1h-1zM414.8,139.4h1v1h-1zM414.8,141.4h1v1h-1zM414.8,144.4h1v1h-1zM415.8,127.4h1v1h-1zM415.8,131.4h1v1h-1zM415.8,134.4h1v1h-1zM415.8,136.4h1v1h-1zM415.8,138.4h1v1h-1zM416.8,127.4h1v1h-1zM416.8,128.4h1v1h-1zM416.8,137.4h1v1h-1zM416.8,138.4h1v1h-1zM416.8,139.4h1v1h-1zM416.8,142.4h1v1h-1zM416.8,143.4h1v1h-1zM417.8,130.4h1v1h-1zM417.8,136.4h1v1h-1zM417.8,139.4h1v1h-1zM417.8,140.4h1v1h-1zM418.8,129.4h1v1h-1zM418.8,130.4h1v1h-1zM418.8,134.4h1v1h-1zM418.8,143.4h1v1h-1zM418.8,144.4h1v1h-1zM419.8,130.4h1v1h-1zM419.8,131.4h1v1h-1zM419.8,132.4h1v1h-1zM419.8,141.4h1v1h-1zM419.8,142.4h1v1h-1zM420.8,127.4h1v1h-1zM420.8,128.4h1v1h-1zM420.8,131.4h1v1h-1zM420.8,133.4h1v1h-1zM420.8,142.4h1v1h-1zM421.8,127.4h1v1h-1zM421.8,134.4h1v1h-1zM421.8,135.4h1v1h-1zM421.8,136.4h1v1h-1zM422.8,127.4h1v1h-1zM422.8,128.4h1v1h-1zM422.8,130.4h1v1h-1zM422.8,132.4h1v1h-1zM422.8,137.4h1v1h-1zM422.8,140.4h1v1h-1zM422.8,145.4h1v1h-1zM423.8,128.4h1v1h-1zM423.8,129.4h1v1h-1zM423.8,134.4h1v1h-1zM423.8,137.4h1v1h-1zM423.8,140.4h1v1h-1zM424.8,131.4h1v1h-1zM424.8,132.4h1v1h-1zM424.8,135.4h1v1h-1zM424.8,136.4h1v1h-1zM424.8,138.4h1v1h-1zM424.8,139.4h1v1h-1zM425.8,128.4h1v1h-1zM425.8,130.4h1v1h-1zM425.8,131.4h1v1h-1zM425.8,132.4h1v1h-1zM425.8,133.4h1v1h-1zM425.8,134.4h1v1h-1zM425.8,136.4h1v1h-1zM425.8,138.4h1v1h-1zM425.8,139.4h1v1h-1zM425.8,142.4h1v1h-1zM426.8,128.4h1v1h-1zM426.8,129.4h1v1h-1zM426.8,130.4h1v1h-1zM426.8,131.4h1v1h-1zM426.8,135.4h1v1h-1zM426.8,140.4h1v1h-1zM427.8,127.4h1v1h-1zM427.8,128.4h1v1h-1zM427.8,132.4h1v1h-1zM427.8,138.4h1v1h-1zM427.8,141.4h1v1h-1zM428.8,128.4h1v1h-1zM428.8,129.4h1v1h-1zM428.8,135.4h1v1h-1zM428.8,136.4h1v1h-1zM428.8,137.4h1v1h-1zM428.8,139.4h1v1h-1zM428.8,141.4h1v1h-1zM429.8,131.4h1v1h-1zM429.8,134.4h1v1h-1zM429.8,135.4h1v1h-1zM430.8,131.4h1v1h-1zM430.8,137.4h1v1h-1zM431.8,130.4h1v1h-1zM431.8,133.4h1v1h-1zM432.8,131.4h1v1h-1zM433.8,134.4h1v1h-1z" fill="#bcbcbc"/>
<path d="M408.8,133.4h1v1h-1zM411.8,138.4h1v1h-1zM411.8,139.4h1v1h-1zM413.8,133.4h1v1h-1zM414.8,130.4h1v1h-1zM415.8,132.4h1v1h-1zM416.8,132.4h1v1h-1zM416.8,133.4h1v1h-1zM416.8,144.4h1v1h-1zM417.8,141.4h1v1h-1zM418.8,131.4h1v1h-1zM418.8,138.4h1v1h-1zM418.8,139.4h1v1h-1zM419.8,128.4h1v1h-1zM420.8,135.4h1v1h-1zM420.8,140.4h1v1h-1zM422.8,135.4h1v1h-1zM422.8,138.4h1v1h-1zM423.8,139.4h1v1h-1zM423.8,142.4h1v1h-1zM423.8,143.4h1v1h-1zM424.8,130.4h1v1h-1zM427.8,136.4h1v1h-1zM429.8,136.4h1v1h-1zM429.8,138.4h1v1h-1z" fill="#777"/>
<path d="M410.8,131.4h1v1h-1zM411.8,131.4h1v1h-1zM411.8,134.4h1v1h-1zM412.8,130.4h1v1h-1zM413.8,138.4h1v1h-1zM414.8,132.4h1v1h-1zM415.8,135.4h1v1h-1zM415.8,142.4h1v1h-1zM417.8,132.4h1v1h-1zM418.8,137.4h1v1h-1zM419.8,139.4h1v1h-1zM421.8,128.4h1v1h-1zM426.8,139.4h1v1h-1zM428.8,134.4h1v1h-1zM392.8,132.2h0.9v0.9h-0.9zM407.9,138.6h0.9v0.9h-0.9zM413.9,119.8h0.9v0.9h-0.9zM424.8,118.5h0.9v0.9h-0.9zM438.2,127.5h0.9v0.9h-0.9zM401.9,121.2h0.9v0.9h-0.9zM400.8,118.8h0.9v0.9h-0.9zM395.5,122.7h0.9v0.9h-0.9zM451.4,129.3h0.9v0.9h-0.9zM435.7,145.5h0.9v0.9h-0.9zM416.4,123.3h0.9v0.9h-0.9zM400.4,127.6h0.9v0.9h-0.9zM435.4,129.8h0.9v0.9h-0.9zM418.5,135.2h0.9v0.9h-0.9zM421.5,143.6h0.9v0.9h-0.9zM408.2,131.5h0.9v0.9h-0.9zM453.7,131.8h0.9v0.9h-0.9zM416.8,127.4h0.9v0.9h-0.9zM427.2,128.9h0.9v0.9h-0.9zM423.0,126.0h0.9v0.9h-0.9zM430.4,129.5h0.9v0.9h-0.9zM421.6,133.6h0.9v0.9h-0.9zM379.8,130.6h0.9v0.9h-0.9zM424.1,140.5h0.9v0.9h-0.9zM406.4,121.9h0.9v0.9h-0.9zM442.5,129.5h0.9v0.9h-0.9zM452.6,141.6h0.9v0.9h-0.9zM427.8,132.3h0.9v0.9h-0.9zM420.9,122.2h0.9v0.9h-0.9zM414.5,116.3h0.9v0.9h-0.9zM418.4,105.7h0.9v0.9h-0.9zM426.1,134.6h0.9v0.9h-0.9zM435.8,127.4h0.9v0.9h-0.9zM422.7,126.4h0.9v0.9h-0.9zM419.4,132.7h0.9v0.9h-0.9zM412.5,111.4h0.9v0.9h-0.9zM401.7,121.9h0.9v0.9h-0.9zM419.1,127.3h0.9v0.9h-0.9zM404.5,143.1h0.9v0.9h-0.9zM373.3,134.7h0.9v0.9h-0.9zM408.0,144.4h0.9v0.9h-0.9zM446.8,133.3h0.9v0.9h-0.9zM415.0,139.3h0.9v0.9h-0.9zM429.6,144.2h0.9v0.9h-0.9zM416.2,140.6h0.9v0.9h-0.9zM443.9,119.8h0.9v0.9h-0.9zM443.3,124.2h0.9v0.9h-0.9zM417.6,121.2h0.9v0.9h-0.9zM441.6,114.6h0.9v0.9h-0.9zM414.2,139.8h0.9v0.9h-0.9zM414.9,143.0h0.9v0.9h-0.9zM437.0,146.9h0.9v0.9h-0.9zM416.2,121.0h0.9v0.9h-0.9zM417.5,126.7h0.9v0.9h-0.9zM419.4,134.8h0.9v0.9h-0.9zM418.7,132.9h0.9v0.9h-0.9zM439.2,134.7h0.9v0.9h-0.9zM437.3,138.0h0.9v0.9h-0.9zM435.1,113.2h0.9v0.9h-0.9zM407.8,114.6h0.9v0.9h-0.9zM404.3,143.0h0.9v0.9h-0.9zM402.2,121.5h0.9v0.9h-0.9zM424.5,135.5h0.9v0.9h-0.9zM422.7,133.8h0.9v0.9h-0.9zM406.5,137.3h0.9v0.9h-0.9zM405.1,124.3h0.9v0.9h-0.9zM415.5,131.4h0.9v0.9h-0.9zM412.7,144.6h0.9v0.9h-0.9zM399.6,107.6h0.9v0.9h-0.9zM424.7,126.7h0.9v0.9h-0.9zM414.6,119.3h0.9v0.9h-0.9zM447.9,112.4h0.9v0.9h-0.9zM404.2,118.2h0.9v0.9h-0.9zM393.6,141.2h0.9v0.9h-0.9zM440.8,130.1h0.9v0.9h-0.9zM426.9,119.3h0.9v0.9h-0.9zM439.3,140.4h0.9v0.9h-0.9zM425.4,133.3h0.9v0.9h-0.9zM392.7,128.6h0.9v0.9h-0.9zM387.7,132.6h0.9v0.9h-0.9zM381.4,126.7h0.9v0.9h-0.9zM385.9,136.0h0.9v0.9h-0.9zM391.4,121.9h0.9v0.9h-0.9zM404.4,126.8h0.9v0.9h-0.9zM384.2,136.2h0.9v0.9h-0.9zM411.0,127.3h0.9v0.9h-0.9zM388.9,122.5h0.9v0.9h-0.9z" fill="#444"/>
<path d="M413.2,122.7h0.9v0.9h-0.9zM405.1,136.5h0.9v0.9h-0.9zM412.7,120.2h0.9v0.9h-0.9zM439.0,123.4h0.9v0.9h-0.9zM405.2,136.5h0.9v0.9h-0.9zM392.5,124.0h0.9v0.9h-0.9zM397.8,140.3h0.9v0.9h-0.9zM412.8,120.4h0.9v0.9h-0.9zM420.5,127.7h0.9v0.9h-0.9zM447.4,116.4h0.9v0.9h-0.9zM391.1,123.1h0.9v0.9h-0.9zM429.0,146.5h0.9v0.9h-0.9zM383.9,121.3h0.9v0.9h-0.9zM425.4,132.6h0.9v0.9h-0.9zM431.6,136.6h0.9v0.9h-0.9zM394.5,122.8h0.9v0.9h-0.9zM428.0,139.7h0.9v0.9h-0.9zM404.7,139.3h0.9v0.9h-0.9zM384.8,130.6h0.9v0.9h-0.9zM418.9,129.7h0.9v0.9h-0.9zM383.0,131.6h0.9v0.9h-0.9zM399.7,122.0h0.9v0.9h-0.9zM429.6,120.7h0.9v0.9h-0.9zM410.5,143.9h0.9v0.9h-0.9zM392.5,110.9h0.9v0.9h-0.9zM412.9,145.0h0.9v0.9h-0.9zM409.1,124.7h0.9v0.9h-0.9zM371.8,130.3h0.9v0.9h-0.9zM412.6,117.7h0.9v0.9h-0.9zM401.6,123.0h0.9v0.9h-0.9zM457.4,136.8h0.9v0.9h-0.9zM418.2,140.3h0.9v0.9h-0.9zM405.8,134.7h0.9v0.9h-0.9zM437.7,96.6h0.9v0.9h-0.9zM403.5,129.4h0.9v0.9h-0.9zM422.8,113.0h0.9v0.9h-0.9zM402.3,105.0h0.9v0.9h-0.9zM399.0,144.9h0.9v0.9h-0.9zM398.7,123.9h0.9v0.9h-0.9zM415.3,143.6h0.9v0.9h-0.9zM435.8,123.2h0.9v0.9h-0.9zM431.9,131.2h0.9v0.9h-0.9zM420.2,128.5h0.9v0.9h-0.9zM404.1,119.9h0.9v0.9h-0.9zM417.8,146.9h0.9v0.9h-0.9zM412.3,127.3h0.9v0.9h-0.9zM413.7,129.2h0.9v0.9h-0.9zM426.0,145.7h0.9v0.9h-0.9zM467.5,133.6h0.9v0.9h-0.9zM432.4,129.2h0.9v0.9h-0.9zM435.5,138.2h0.9v0.9h-0.9zM390.4,128.6h0.9v0.9h-0.9zM378.3,142.4h0.9v0.9h-0.9zM404.4,118.2h0.9v0.9h-0.9zM428.6,141.8h0.9v0.9h-0.9zM431.1,106.6h0.9v0.9h-0.9zM397.0,134.1h0.9v0.9h-0.9zM416.5,135.6h0.9v0.9h-0.9zM411.7,126.6h0.9v0.9h-0.9zM429.1,129.0h0.9v0.9h-0.9zM412.3,121.6h0.9v0.9h-0.9zM413.2,116.5h0.9v0.9h-0.9zM412.9,131.9h0.9v0.9h-0.9zM404.7,125.4h0.9v0.9h-0.9zM400.1,117.2h0.9v0.9h-0.9zM413.6,134.2h0.9v0.9h-0.9zM403.5,127.1h0.9v0.9h-0.9zM395.1,99.6h0.9v0.9h-0.9zM411.3,138.9h0.9v0.9h-0.9zM409.2,132.0h0.9v0.9h-0.9zM406.2,116.3h0.9v0.9h-0.9zM419.6,119.2h0.9v0.9h-0.9zM372.8,138.5h0.9v0.9h-0.9zM418.3,139.6h0.9v0.9h-0.9zM393.9,121.3h0.9v0.9h-0.9zM393.8,122.3h0.9v0.9h-0.9zM391.7,128.3h0.9v0.9h-0.9zM383.4,145.3h0.9v0.9h-0.9zM393.4,141.0h0.9v0.9h-0.9zM382.0,126.3h0.9v0.9h-0.9zM390.5,125.1h0.9v0.9h-0.9z" fill="#666"/>
<path d="M405.2,117.0h0.9v0.9h-0.9zM406.9,106.8h0.9v0.9h-0.9zM415.7,116.6h0.9v0.9h-0.9zM392.3,130.1h0.9v0.9h-0.9zM419.2,129.4h0.9v0.9h-0.9zM426.7,147.0h0.9v0.9h-0.9zM423.3,134.6h0.9v0.9h-0.9zM408.9,128.2h0.9v0.9h-0.9zM408.0,140.0h0.9v0.9h-0.9zM423.3,135.2h0.9v0.9h-0.9zM433.7,140.2h0.9v0.9h-0.9zM416.1,125.6h0.9v0.9h-0.9zM408.2,133.6h0.9v0.9h-0.9zM411.9,141.2h0.9v0.9h-0.9zM414.2,123.6h0.9v0.9h-0.9zM420.0,135.6h0.9v0.9h-0.9zM423.7,146.4h0.9v0.9h-0.9zM385.7,132.3h0.9v0.9h-0.9zM432.5,137.8h0.9v0.9h-0.9zM403.5,112.4h0.9v0.9h-0.9zM400.4,121.7h0.9v0.9h-0.9zM414.0,132.4h0.9v0.9h-0.9zM428.7,122.1h0.9v0.9h-0.9zM445.9,130.1h0.9v0.9h-0.9zM388.1,134.6h0.9v0.9h-0.9zM396.4,135.4h0.9v0.9h-0.9zM425.0,122.6h0.9v0.9h-0.9zM442.8,120.7h0.9v0.9h-0.9zM416.4,124.3h0.9v0.9h-0.9zM429.4,112.5h0.9v0.9h-0.9zM414.6,125.9h0.9v0.9h-0.9zM407.2,146.5h0.9v0.9h-0.9zM413.7,123.5h0.9v0.9h-0.9zM436.8,126.1h0.9v0.9h-0.9zM407.2,136.2h0.9v0.9h-0.9zM433.3,128.2h0.9v0.9h-0.9zM384.1,121.0h0.9v0.9h-0.9zM459.1,132.5h0.9v0.9h-0.9zM403.1,113.3h0.9v0.9h-0.9zM391.1,132.7h0.9v0.9h-0.9zM398.1,127.4h0.9v0.9h-0.9zM416.0,124.5h0.9v0.9h-0.9zM413.5,116.4h0.9v0.9h-0.9zM404.8,118.8h0.9v0.9h-0.9zM418.6,119.7h0.9v0.9h-0.9zM425.5,120.8h0.9v0.9h-0.9zM387.2,131.5h0.9v0.9h-0.9zM415.7,130.6h0.9v0.9h-0.9zM420.9,138.2h0.9v0.9h-0.9zM428.6,113.4h0.9v0.9h-0.9zM413.2,114.7h0.9v0.9h-0.9zM414.6,123.0h0.9v0.9h-0.9zM411.2,140.0h0.9v0.9h-0.9zM405.2,122.6h0.9v0.9h-0.9zM398.6,134.3h0.9v0.9h-0.9zM396.3,137.4h0.9v0.9h-0.9zM462.9,134.2h0.9v0.9h-0.9zM453.6,125.0h0.9v0.9h-0.9zM419.6,112.7h0.9v0.9h-0.9zM399.2,138.7h0.9v0.9h-0.9zM449.9,117.3h0.9v0.9h-0.9zM417.4,125.5h0.9v0.9h-0.9zM411.5,143.7h0.9v0.9h-0.9zM460.3,135.2h0.9v0.9h-0.9zM411.0,128.7h0.9v0.9h-0.9zM409.6,144.4h0.9v0.9h-0.9zM423.4,143.2h0.9v0.9h-0.9zM417.7,122.0h0.9v0.9h-0.9zM422.9,125.6h0.9v0.9h-0.9zM429.8,120.9h0.9v0.9h-0.9zM420.4,138.2h0.9v0.9h-0.9zM410.5,146.5h0.9v0.9h-0.9zM437.4,136.3h0.9v0.9h-0.9zM435.3,120.1h0.9v0.9h-0.9zM398.9,145.9h0.9v0.9h-0.9zM445.0,135.7h0.9v0.9h-0.9zM373.7,114.7h0.9v0.9h-0.9zM378.7,126.6h0.9v0.9h-0.9zM397.0,128.8h0.9v0.9h-0.9zM390.7,136.3h0.9v0.9h-0.9zM381.2,126.8h0.9v0.9h-0.9zM401.8,145.4h0.9v0.9h-0.9zM397.0,120.2h0.9v0.9h-0.9zM406.3,138.9h0.9v0.9h-0.9zM401.2,144.8h0.9v0.9h-0.9zM391.9,122.3h0.9v0.9h-0.9zM392.7,146.7h0.9v0.9h-0.9zM385.8,128.6h0.9v0.9h-0.9zM401.2,132.3h0.9v0.9h-0.9zM403.3,125.2h0.9v0.9h-0.9zM399.0,132.4h0.9v0.9h-0.9z" fill="#999"/>
<path d="M420.1,139.3h0.9v0.9h-0.9zM400.4,132.1h0.9v0.9h-0.9zM424.2,126.6h0.9v0.9h-0.9zM388.7,111.5h0.9v0.9h-0.9zM418.2,123.4h0.9v0.9h-0.9zM385.2,123.0h0.9v0.9h-0.9zM412.8,128.8h0.9v0.9h-0.9zM451.9,139.0h0.9v0.9h-0.9zM406.5,107.9h0.9v0.9h-0.9zM416.4,131.4h0.9v0.9h-0.9zM416.1,126.3h0.9v0.9h-0.9zM424.5,127.7h0.9v0.9h-0.9zM426.7,126.3h0.9v0.9h-0.9zM375.7,127.7h0.9v0.9h-0.9zM424.2,106.3h0.9v0.9h-0.9zM389.8,126.1h0.9v0.9h-0.9zM421.1,140.2h0.9v0.9h-0.9zM439.6,146.2h0.9v0.9h-0.9zM434.5,124.0h0.9v0.9h-0.9zM434.7,124.4h0.9v0.9h-0.9zM415.6,113.1h0.9v0.9h-0.9zM443.8,109.0h0.9v0.9h-0.9zM391.5,129.3h0.9v0.9h-0.9zM402.2,114.3h0.9v0.9h-0.9zM425.7,117.6h0.9v0.9h-0.9zM414.6,143.9h0.9v0.9h-0.9zM422.1,124.2h0.9v0.9h-0.9zM401.0,134.1h0.9v0.9h-0.9zM432.5,124.8h0.9v0.9h-0.9zM433.3,126.1h0.9v0.9h-0.9zM413.8,116.3h0.9v0.9h-0.9zM418.4,134.5h0.9v0.9h-0.9zM409.4,120.1h0.9v0.9h-0.9zM410.4,137.3h0.9v0.9h-0.9zM424.6,116.1h0.9v0.9h-0.9zM429.4,135.1h0.9v0.9h-0.9zM426.9,133.2h0.9v0.9h-0.9zM400.2,120.8h0.9v0.9h-0.9zM416.7,144.0h0.9v0.9h-0.9zM435.3,110.3h0.9v0.9h-0.9zM390.8,128.3h0.9v0.9h-0.9zM389.8,137.5h0.9v0.9h-0.9zM410.4,134.3h0.9v0.9h-0.9zM404.4,139.5h0.9v0.9h-0.9zM423.5,137.5h0.9v0.9h-0.9zM393.9,131.9h0.9v0.9h-0.9zM396.7,124.2h0.9v0.9h-0.9zM410.1,130.6h0.9v0.9h-0.9zM415.9,137.2h0.9v0.9h-0.9zM425.0,141.0h0.9v0.9h-0.9zM432.4,130.8h0.9v0.9h-0.9zM421.3,135.2h0.9v0.9h-0.9zM446.2,118.3h0.9v0.9h-0.9zM411.4,137.5h0.9v0.9h-0.9zM438.9,122.2h0.9v0.9h-0.9zM396.7,128.3h0.9v0.9h-0.9zM421.7,116.3h0.9v0.9h-0.9zM405.7,128.6h0.9v0.9h-0.9zM411.5,125.8h0.9v0.9h-0.9zM429.6,128.8h0.9v0.9h-0.9zM402.1,127.0h0.9v0.9h-0.9zM411.4,117.4h0.9v0.9h-0.9zM400.5,143.8h0.9v0.9h-0.9zM423.1,115.4h0.9v0.9h-0.9zM419.9,135.4h0.9v0.9h-0.9zM386.2,128.3h0.9v0.9h-0.9zM415.6,124.2h0.9v0.9h-0.9zM402.2,136.9h0.9v0.9h-0.9zM396.9,126.0h0.9v0.9h-0.9zM408.9,111.5h0.9v0.9h-0.9zM398.8,120.1h0.9v0.9h-0.9zM409.3,118.8h0.9v0.9h-0.9zM420.8,139.6h0.9v0.9h-0.9zM433.3,118.0h0.9v0.9h-0.9zM410.9,133.5h0.9v0.9h-0.9zM447.3,122.5h0.9v0.9h-0.9zM407.6,89.4h0.9v0.9h-0.9zM395.4,124.6h0.9v0.9h-0.9zM425.9,138.5h0.9v0.9h-0.9zM401.8,120.8h0.9v0.9h-0.9zM407.6,116.4h0.9v0.9h-0.9zM412.9,120.9h0.9v0.9h-0.9zM384.4,134.8h0.9v0.9h-0.9zM430.8,136.6h0.9v0.9h-0.9zM406.9,143.6h0.9v0.9h-0.9zM398.2,133.4h0.9v0.9h-0.9zM429.5,134.8h0.9v0.9h-0.9zM436.6,140.0h0.9v0.9h-0.9zM414.6,108.0h0.9v0.9h-0.9zM392.3,135.7h0.9v0.9h-0.9zM372.8,141.6h0.9v0.9h-0.9zM386.8,129.0h0.9v0.9h-0.9zM373.3,135.8h0.9v0.9h-0.9zM388.1,125.1h0.9v0.9h-0.9zM419.9,119.2h0.9v0.9h-0.9zM385.6,132.8h0.9v0.9h-0.9z" fill="#aaa"/>
</g>
<polyline points="369.8,121 400.8,100.8 386.4,149.4" fill="none" stroke="#222" stroke-width="0.75"/>
<polyline points="389.4,149.4 405.8,98.8 503.1,97.2 503.1,149.4" fill="none" stroke="#222" stroke-width="0.75"/>
<path d="M369.8,5.9H513.8V149.4" fill="none" stroke="#111" stroke-width="1.0"/>
<path d="M369.8,5.4V149.4H514.3" fill="none" stroke="#000" stroke-width="1.45"/>
<path d="M365.2,149.4H369.8M369.8,149.4V153.6M367.4,138.65H369.8M380.59,149.4V151.8M367.4,132.37H369.8M386.9,149.4V151.8M367.4,127.91H369.8M391.38,149.4V151.8M367.4,124.45H369.8M394.86,149.4V151.8M367.4,121.62H369.8M397.7,149.4V151.8M367.4,119.23H369.8M400.1,149.4V151.8M367.4,117.16H369.8M402.18,149.4V151.8M367.4,115.33H369.8M404.01,149.4V151.8M365.2,113.7H369.8M405.65,149.4V153.6M367.4,102.95H369.8M416.44,149.4V151.8M367.4,96.67H369.8M422.75,149.4V151.8M367.4,92.21H369.8M427.23,149.4V151.8M367.4,88.75H369.8M430.71,149.4V151.8M367.4,85.92H369.8M433.55,149.4V151.8M367.4,83.53H369.8M435.95,149.4V151.8M367.4,81.46H369.8M438.03,149.4V151.8M367.4,79.63H369.8M439.86,149.4V151.8M365.2,78H369.8M441.5,149.4V153.6M367.4,67.25H369.8M452.29,149.4V151.8M367.4,60.97H369.8M458.6,149.4V151.8M367.4,56.51H369.8M463.08,149.4V151.8M367.4,53.05H369.8M466.56,149.4V151.8M367.4,50.22H369.8M469.4,149.4V151.8M367.4,47.83H369.8M471.8,149.4V151.8M367.4,45.76H369.8M473.88,149.4V151.8M367.4,43.93H369.8M475.71,149.4V151.8M365.2,42.3H369.8M477.35,149.4V153.6M367.4,31.55H369.8M488.14,149.4V151.8M367.4,25.27H369.8M494.45,149.4V151.8M367.4,20.81H369.8M498.93,149.4V151.8M367.4,17.35H369.8M502.41,149.4V151.8M367.4,14.52H369.8M505.25,149.4V151.8M367.4,12.13H369.8M507.65,149.4V151.8M367.4,10.06H369.8M509.73,149.4V151.8M367.4,8.23H369.8M511.56,149.4V151.8M365.2,6.6H369.8M513.2,149.4V153.6" stroke="#111" stroke-width="0.8" fill="none"/>
<text x="351.3" y="152" font-size="7.6" font-family="Liberation Sans, sans-serif" fill="#222">10<tspan dy="-4.6" dx="0.2" font-size="7">0</tspan></text>
<text x="368.4" y="168.4" font-size="7.6" font-family="Liberation Sans, sans-serif" fill="#222">10<tspan dy="-4.8" dx="0.2" font-size="7">0</tspan></text>
<text x="351.3" y="116.3" font-size="7.6" font-family="Liberation Sans, sans-serif" fill="#222">10<tspan dy="-4.6" dx="0.2" font-size="7">1</tspan></text>
<text x="402.25" y="168.4" font-size="7.6" font-family="Liberation Sans, sans-serif" fill="#222">10<tspan dy="-4.8" dx="0.2" font-size="7">1</tspan></text>
<text x="351.3" y="80.6" font-size="7.6" font-family="Liberation Sans, sans-serif" fill="#222">10<tspan dy="-4.6" dx="0.2" font-size="7">2</tspan></text>
<text x="436.1" y="168.4" font-size="7.6" font-family="Liberation Sans, sans-serif" fill="#222">10<tspan dy="-4.8" dx="0.2" font-size="7">2</tspan></text>
<text x="351.3" y="44.9" font-size="7.6" font-family="Liberation Sans, sans-serif" fill="#222">10<tspan dy="-4.6" dx="0.2" font-size="7">3</tspan></text>
<text x="469.95" y="168.4" font-size="7.6" font-family="Liberation Sans, sans-serif" fill="#222">10<tspan dy="-4.8" dx="0.2" font-size="7">3</tspan></text>
<text x="503.8" y="168.4" font-size="7.6" font-family="Liberation Sans, sans-serif" fill="#222">10<tspan dy="-4.8" dx="0.2" font-size="7">4</tspan></text>
<rect x="375.5" y="12.3" width="62.6" height="16.1" fill="#fff" stroke="#333" stroke-width="0.9"/>
<text x="378" y="21.9" font-size="6.95" font-family="Liberation Sans, sans-serif" fill="#222">G-CSF 100 ng/ml</text>
<text x="464.2" y="107" font-size="6.9" font-family="Liberation Sans, sans-serif" fill="#222">pStat3 pos</text>
<text x="464.2" y="116.6" font-size="7.0" font-family="Liberation Sans, sans-serif" fill="#222">99.32</text>
</g>
<g clip-path="url(#tc)"><text x="351.3" y="9.8" font-size="7.6" font-family="Liberation Sans, sans-serif" fill="#222">10</text></g>
<text x="4.2" y="17.3" font-size="17" font-weight="bold" font-family="Liberation Sans, sans-serif" fill="#000">A</text>
<text x="5.7" y="218" font-size="17" font-weight="bold" font-family="Liberation Sans, sans-serif" fill="#000">B</text>
<text x="5.3" y="394.6" font-size="17" font-weight="bold" font-family="Liberation Sans, sans-serif" fill="#000">C</text>
<text x="228" y="195.2" font-size="14.4" font-family="Liberation Sans, sans-serif" fill="#111">pStat3-PE</text>
<path d="M299,190.3H349" stroke="#222" stroke-width="0.8" fill="none"/><path d="M351.5,190.3l-4,-1.7v3.4z" fill="#111"/>
<path d="M85.4,339.2H437.5" stroke="#8a8a8a" stroke-width="0.9"/>
<path d="M85.4,325.2H437.5" stroke="#8a8a8a" stroke-width="0.9"/>
<path d="M85.4,311.2H437.5" stroke="#8a8a8a" stroke-width="0.9"/>
<path d="M85.4,297.2H437.5" stroke="#8a8a8a" stroke-width="0.9"/>
<path d="M85.4,283.2H437.5" stroke="#8a8a8a" stroke-width="0.9"/>
<path d="M85.4,269.2H437.5" stroke="#8a8a8a" stroke-width="0.9"/>
<path d="M85.4,255.2H437.5" stroke="#8a8a8a" stroke-width="0.9"/>
<path d="M85.4,241.2H437.5" stroke="#8a8a8a" stroke-width="0.9"/>
<path d="M85.4,227.2H437.5" stroke="#8a8a8a" stroke-width="0.9"/>
<path d="M85.4,213.2H437.5" stroke="#8a8a8a" stroke-width="0.9"/>
<path d="M437.5,213.2V353.2" stroke="#8a8a8a" stroke-width="0.9"/>
<rect x="100.35" y="299.58" width="20.3" height="53.62" fill="#808080" stroke="#333" stroke-width="0.9"/>
<path d="M110.55,299.58V289.22M107.05,289.22H114.05" stroke="#222" stroke-width="0.9" fill="none"/>
<rect x="150.65" y="292.02" width="20.3" height="61.18" fill="#808080" stroke="#333" stroke-width="0.9"/>
<path d="M160.85,292.02V279.7M157.35,279.7H164.35" stroke="#222" stroke-width="0.9" fill="none"/>
<rect x="200.95" y="310.64" width="20.3" height="42.56" fill="#808080" stroke="#333" stroke-width="0.9"/>
<path d="M211.15,310.64V295.94M207.65,295.94H214.65" stroke="#222" stroke-width="0.9" fill="none"/>
<rect x="251.25" y="226.08" width="20.3" height="127.12" fill="#808080" stroke="#333" stroke-width="0.9"/>
<path d="M261.45,226.08V221.18M257.95,221.18H264.95" stroke="#222" stroke-width="0.9" fill="none"/>
<rect x="301.55" y="311.48" width="20.3" height="41.72" fill="#808080" stroke="#333" stroke-width="0.9"/>
<path d="M311.75,311.48V299.16M308.25,299.16H315.25" stroke="#222" stroke-width="0.9" fill="none"/>
<rect x="351.85" y="329.96" width="20.3" height="23.24" fill="#808080" stroke="#333" stroke-width="0.9"/>
<path d="M362.05,329.96V313.72M358.55,313.72H365.55" stroke="#222" stroke-width="0.9" fill="none"/>
<rect x="402.15" y="269.34" width="20.3" height="83.86" fill="#808080" stroke="#333" stroke-width="0.9"/>
<path d="M412.35,269.34V243.86M408.85,243.86H415.85" stroke="#222" stroke-width="0.9" fill="none"/>
<path d="M85.4,213.2V353.2H437.5M81.7,353.2H85.4M81.7,339.2H85.4M81.7,325.2H85.4M81.7,311.2H85.4M81.7,297.2H85.4M81.7,283.2H85.4M81.7,269.2H85.4M81.7,255.2H85.4M81.7,241.2H85.4M81.7,227.2H85.4M81.7,213.2H85.4M85.4,353.2V356.7M135.7,353.2V356.7M186,353.2V356.7M236.3,353.2V356.7M286.6,353.2V356.7M336.9,353.2V356.7M387.2,353.2V356.7M437.5,353.2V356.7" stroke="#555" stroke-width="0.95" fill="none"/>
<path d="M81.9,326.2H437.5" stroke="#000" stroke-width="2.4"/>
<text x="77.5" y="356.7" font-size="9.7" text-anchor="end" font-family="Liberation Sans, sans-serif" fill="#111">0</text>
<text x="77.5" y="342.7" font-size="9.7" text-anchor="end" font-family="Liberation Sans, sans-serif" fill="#111">10</text>
<text x="77.5" y="328.7" font-size="9.7" text-anchor="end" font-family="Liberation Sans, sans-serif" fill="#111">20</text>
<text x="77.5" y="314.7" font-size="9.7" text-anchor="end" font-family="Liberation Sans, sans-serif" fill="#111">30</text>
<text x="77.5" y="300.7" font-size="9.7" text-anchor="end" font-family="Liberation Sans, sans-serif" fill="#111">40</text>
<text x="77.5" y="286.7" font-size="9.7" text-anchor="end" font-family="Liberation Sans, sans-serif" fill="#111">50</text>
<text x="77.5" y="272.7" font-size="9.7" text-anchor="end" font-family="Liberation Sans, sans-serif" fill="#111">60</text>
<text x="77.5" y="258.7" font-size="9.7" text-anchor="end" font-family="Liberation Sans, sans-serif" fill="#111">70</text>
<text x="77.5" y="244.7" font-size="9.7" text-anchor="end" font-family="Liberation Sans, sans-serif" fill="#111">80</text>
<text x="77.5" y="230.7" font-size="9.7" text-anchor="end" font-family="Liberation Sans, sans-serif" fill="#111">90</text>
<text x="77.5" y="216.7" font-size="9.7" text-anchor="end" font-family="Liberation Sans, sans-serif" fill="#111">100</text>
<text x="110.55" y="371.8" font-size="10.2" text-anchor="middle" font-family="Liberation Sans, sans-serif" fill="#111">Kasumi-1</text>
<text x="160.85" y="371.8" font-size="10.2" text-anchor="middle" font-family="Liberation Sans, sans-serif" fill="#111">GDM-1</text>
<text x="211.15" y="371.8" font-size="10.2" text-anchor="middle" font-family="Liberation Sans, sans-serif" fill="#111">THP-1</text>
<text x="261.45" y="371.8" font-size="10.2" text-anchor="middle" font-family="Liberation Sans, sans-serif" fill="#111">KG-1</text>
<text x="311.75" y="371.8" font-size="10.2" text-anchor="middle" font-family="Liberation Sans, sans-serif" fill="#111">HL-60</text>
<text x="362.05" y="371.8" font-size="10.2" text-anchor="middle" font-family="Liberation Sans, sans-serif" fill="#111">NB-4</text>
<text x="412.35" y="371.8" font-size="10.2" text-anchor="middle" font-family="Liberation Sans, sans-serif" fill="#111">K562</text>
<text transform="translate(52.2,321.2) rotate(-90)" font-size="9.8" font-weight="bold" font-family="Liberation Sans, sans-serif" fill="#000">Percent pStat3+</text>
<defs><pattern id="hs" width="4" height="2" patternUnits="userSpaceOnUse"><rect width="4" height="2" fill="#d0d0d0"/><rect y="0" width="4" height="0.8" fill="#9a9a9a"/></pattern></defs>
<path d="M70.2,513.09H426.2" stroke="#8a8a8a" stroke-width="0.9"/>
<path d="M70.2,492.97H426.2" stroke="#8a8a8a" stroke-width="0.9"/>
<path d="M70.2,472.86H426.2" stroke="#8a8a8a" stroke-width="0.9"/>
<path d="M70.2,452.74H426.2" stroke="#8a8a8a" stroke-width="0.9"/>
<path d="M70.2,432.63H426.2" stroke="#8a8a8a" stroke-width="0.9"/>
<path d="M70.2,412.51H426.2" stroke="#8a8a8a" stroke-width="0.9"/>
<path d="M70.2,392.4H426.2" stroke="#8a8a8a" stroke-width="0.9"/>
<path d="M426.2,392.4V533.2" stroke="#8a8a8a" stroke-width="0.9"/>
<rect x="78.3" y="512.08" width="11.2" height="21.12" fill="#808080" stroke="#505050" stroke-width="0.75"/>
<path d="M83.9,512.08V507.25M81.3,507.25H86.5" stroke="#444" stroke-width="0.75" fill="none"/>
<rect x="89.5" y="468.33" width="11.2" height="64.87" fill="url(#hs)" stroke="#505050" stroke-width="0.75"/>
<path d="M95.1,468.33V456.26M92.5,456.26H97.7" stroke="#444" stroke-width="0.75" fill="none"/>
<rect x="100.7" y="430.62" width="11.2" height="102.58" fill="#c6c6c6" stroke="#505050" stroke-width="0.75"/>
<path d="M106.3,430.62V406.48M103.7,406.48H108.9" stroke="#444" stroke-width="0.75" fill="none"/>
<rect x="129.13" y="519.12" width="11.2" height="14.08" fill="#808080" stroke="#505050" stroke-width="0.75"/>
<rect x="140.33" y="481.41" width="11.2" height="51.79" fill="url(#hs)" stroke="#505050" stroke-width="0.75"/>
<path d="M145.93,481.41V476.88M143.33,476.88H148.53" stroke="#444" stroke-width="0.75" fill="none"/>
<rect x="151.53" y="462.3" width="11.2" height="70.9" fill="#c6c6c6" stroke="#505050" stroke-width="0.75"/>
<path d="M157.13,462.3V449.73M154.53,449.73H159.73" stroke="#444" stroke-width="0.75" fill="none"/>
<rect x="179.96" y="521.63" width="11.2" height="11.57" fill="#808080" stroke="#505050" stroke-width="0.75"/>
<path d="M185.56,521.63V520.13M182.96,520.13H188.16" stroke="#444" stroke-width="0.75" fill="none"/>
<rect x="191.16" y="508.56" width="11.2" height="24.64" fill="url(#hs)" stroke="#505050" stroke-width="0.75"/>
<path d="M196.76,508.56V499.01M194.16,499.01H199.36" stroke="#444" stroke-width="0.75" fill="none"/>
<rect x="202.36" y="490.46" width="11.2" height="42.74" fill="#c6c6c6" stroke="#505050" stroke-width="0.75"/>
<path d="M207.96,490.46V479.39M205.36,479.39H210.56" stroke="#444" stroke-width="0.75" fill="none"/>
<rect x="230.79" y="523.14" width="11.2" height="10.06" fill="#808080" stroke="#505050" stroke-width="0.75"/>
<rect x="241.99" y="516.1" width="11.2" height="17.1" fill="url(#hs)" stroke="#505050" stroke-width="0.75"/>
<path d="M247.59,516.1V513.09M244.99,513.09H250.19" stroke="#444" stroke-width="0.75" fill="none"/>
<rect x="253.19" y="514.59" width="11.2" height="18.61" fill="#c6c6c6" stroke="#505050" stroke-width="0.75"/>
<path d="M258.79,514.59V509.57M256.19,509.57H261.39" stroke="#444" stroke-width="0.75" fill="none"/>
<rect x="281.62" y="520.63" width="11.2" height="12.57" fill="#808080" stroke="#505050" stroke-width="0.75"/>
<path d="M287.22,520.63V517.61M284.62,517.61H289.82" stroke="#444" stroke-width="0.75" fill="none"/>
<rect x="292.82" y="498" width="11.2" height="35.2" fill="url(#hs)" stroke="#505050" stroke-width="0.75"/>
<path d="M298.42,498V491.46M295.82,491.46H301.02" stroke="#444" stroke-width="0.75" fill="none"/>
<rect x="304.02" y="483.92" width="11.2" height="49.28" fill="#c6c6c6" stroke="#505050" stroke-width="0.75"/>
<path d="M309.62,483.92V475.37M307.02,475.37H312.22" stroke="#444" stroke-width="0.75" fill="none"/>
<rect x="332.45" y="524.15" width="11.2" height="9.05" fill="#808080" stroke="#505050" stroke-width="0.75"/>
<rect x="343.65" y="517.11" width="11.2" height="16.09" fill="url(#hs)" stroke="#505050" stroke-width="0.75"/>
<path d="M349.25,517.11V514.59M346.65,514.59H351.85" stroke="#444" stroke-width="0.75" fill="none"/>
<rect x="354.85" y="493.98" width="11.2" height="39.22" fill="#c6c6c6" stroke="#505050" stroke-width="0.75"/>
<path d="M360.45,493.98V484.42M357.85,484.42H363.05" stroke="#444" stroke-width="0.75" fill="none"/>
<rect x="383.28" y="519.12" width="11.2" height="14.08" fill="#808080" stroke="#505050" stroke-width="0.75"/>
<rect x="394.48" y="520.63" width="11.2" height="12.57" fill="url(#hs)" stroke="#505050" stroke-width="0.75"/>
<path d="M400.08,520.63V519.12M397.48,519.12H402.68" stroke="#444" stroke-width="0.75" fill="none"/>
<rect x="405.68" y="520.63" width="11.2" height="12.57" fill="#c6c6c6" stroke="#505050" stroke-width="0.75"/>
<path d="M411.28,520.63V517.61M408.68,517.61H413.88" stroke="#444" stroke-width="0.75" fill="none"/>
<path d="M70.2,392.4V533.2H426.2M67.9,533.2H70.2M67.9,513.09H70.2M67.9,492.97H70.2M67.9,472.86H70.2M67.9,452.74H70.2M67.9,432.63H70.2M67.9,412.51H70.2M67.9,392.4H70.2M70.2,533.2V536.2M121.06,533.2V536.2M171.91,533.2V536.2M222.77,533.2V536.2M273.63,533.2V536.2M324.49,533.2V536.2M375.34,533.2V536.2M426.2,533.2V536.2" stroke="#777" stroke-width="1.1" fill="none"/>
<path d="M69.2,513.09H426.2" stroke="#000" stroke-width="1.45"/>
<text x="64.8" y="536.2" font-size="8.1" text-anchor="end" font-family="Liberation Sans, sans-serif" fill="#111">0</text>
<text x="64.8" y="516.09" font-size="8.1" text-anchor="end" font-family="Liberation Sans, sans-serif" fill="#111">2</text>
<text x="64.8" y="495.97" font-size="8.1" text-anchor="end" font-family="Liberation Sans, sans-serif" fill="#111">4</text>
<text x="64.8" y="475.86" font-size="8.1" text-anchor="end" font-family="Liberation Sans, sans-serif" fill="#111">6</text>
<text x="64.8" y="455.74" font-size="8.1" text-anchor="end" font-family="Liberation Sans, sans-serif" fill="#111">8</text>
<text x="64.8" y="435.63" font-size="8.1" text-anchor="end" font-family="Liberation Sans, sans-serif" fill="#111">10</text>
<text x="64.8" y="415.51" font-size="8.1" text-anchor="end" font-family="Liberation Sans, sans-serif" fill="#111">12</text>
<text x="64.8" y="395.4" font-size="8.1" text-anchor="end" font-family="Liberation Sans, sans-serif" fill="#111">14</text>
<text x="96.43" y="548.8" font-size="8.1" text-anchor="middle" font-family="Liberation Sans, sans-serif" fill="#111">Kasumi-1</text>
<text x="147.29" y="548.8" font-size="8.1" text-anchor="middle" font-family="Liberation Sans, sans-serif" fill="#111">GDM-1</text>
<text x="198.14" y="548.8" font-size="8.1" text-anchor="middle" font-family="Liberation Sans, sans-serif" fill="#111">THP-1</text>
<text x="249" y="548.8" font-size="8.1" text-anchor="middle" font-family="Liberation Sans, sans-serif" fill="#111">KG-1</text>
<text x="299.86" y="548.8" font-size="8.1" text-anchor="middle" font-family="Liberation Sans, sans-serif" fill="#111">HL-60</text>
<text x="350.71" y="548.8" font-size="8.1" text-anchor="middle" font-family="Liberation Sans, sans-serif" fill="#111">NB-4</text>
<text x="401.57" y="548.8" font-size="8.1" text-anchor="middle" font-family="Liberation Sans, sans-serif" fill="#111">K562</text>
<text transform="translate(48.7,517.8) rotate(-90)" font-size="8.65" font-weight="bold" font-family="Liberation Sans, sans-serif" fill="#000">Fold Change over Unstim</text>
<rect x="363.9" y="400.8" width="49.3" height="45.4" fill="#fff" stroke="#777" stroke-width="0.8"/>
<rect x="367" y="406.7" width="4.4" height="4.4" fill="#808080" stroke="#555" stroke-width="0.7"/>
<text x="374.4" y="411.7" font-size="8" font-family="Liberation Sans, sans-serif" fill="#000">1 ng/ml</text>
<rect x="367" y="421.6" width="4.4" height="4.4" fill="url(#hs)" stroke="#555" stroke-width="0.7"/>
<text x="374.4" y="426.6" font-size="8" font-family="Liberation Sans, sans-serif" fill="#000">10 ng/ml</text>
<rect x="367" y="436.7" width="4.4" height="4.4" fill="#c6c6c6" stroke="#555" stroke-width="0.7"/>
<text x="374.4" y="441.7" font-size="8" font-family="Liberation Sans, sans-serif" fill="#000">100 ng/ml</text>
</svg>
</body></html>
